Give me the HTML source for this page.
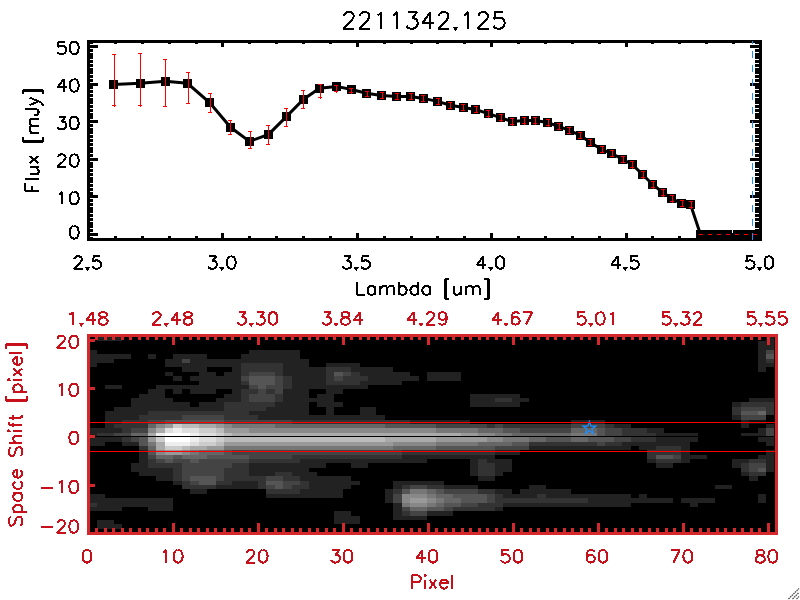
<!DOCTYPE html>
<html><head><meta charset="utf-8"><style>
html,body{margin:0;padding:0;background:#fff;width:800px;height:600px;overflow:hidden;font-family:"Liberation Sans",sans-serif;}
svg{display:block}
</style></head><body>
<svg width="800" height="600" viewBox="0 0 800 600">
<rect width="800" height="600" fill="#fff"/>
<rect x="87" y="41" width="3" height="198" fill="#000"/>
<rect x="88" y="40" width="672" height="3" fill="#000"/>
<rect x="759" y="41" width="3" height="198" fill="#000"/>
<rect x="88" y="238" width="672" height="3" fill="#000"/>
<rect x="87" y="237" width="6" height="3" fill="#000"/>
<rect x="755" y="237" width="7" height="3" fill="#000"/>
<rect x="87" y="233" width="11" height="3" fill="#000"/>
<rect x="750" y="233" width="12" height="3" fill="#000"/>
<rect x="87" y="229" width="6" height="3" fill="#000"/>
<rect x="755" y="229" width="7" height="3" fill="#000"/>
<rect x="87" y="225" width="6" height="3" fill="#000"/>
<rect x="755" y="225" width="7" height="3" fill="#000"/>
<rect x="87" y="222" width="6" height="3" fill="#000"/>
<rect x="755" y="222" width="7" height="3" fill="#000"/>
<rect x="87" y="218" width="6" height="3" fill="#000"/>
<rect x="755" y="218" width="7" height="3" fill="#000"/>
<rect x="87" y="214" width="6" height="3" fill="#000"/>
<rect x="755" y="214" width="7" height="3" fill="#000"/>
<rect x="87" y="210" width="6" height="3" fill="#000"/>
<rect x="755" y="210" width="7" height="3" fill="#000"/>
<rect x="87" y="207" width="6" height="3" fill="#000"/>
<rect x="755" y="207" width="7" height="3" fill="#000"/>
<rect x="87" y="203" width="6" height="3" fill="#000"/>
<rect x="755" y="203" width="7" height="3" fill="#000"/>
<rect x="87" y="199" width="6" height="3" fill="#000"/>
<rect x="755" y="199" width="7" height="3" fill="#000"/>
<rect x="87" y="195" width="11" height="3" fill="#000"/>
<rect x="750" y="195" width="12" height="3" fill="#000"/>
<rect x="87" y="192" width="6" height="3" fill="#000"/>
<rect x="755" y="192" width="7" height="3" fill="#000"/>
<rect x="87" y="188" width="6" height="3" fill="#000"/>
<rect x="755" y="188" width="7" height="3" fill="#000"/>
<rect x="87" y="184" width="6" height="3" fill="#000"/>
<rect x="755" y="184" width="7" height="3" fill="#000"/>
<rect x="87" y="180" width="6" height="3" fill="#000"/>
<rect x="755" y="180" width="7" height="3" fill="#000"/>
<rect x="87" y="177" width="6" height="3" fill="#000"/>
<rect x="755" y="177" width="7" height="3" fill="#000"/>
<rect x="87" y="173" width="6" height="3" fill="#000"/>
<rect x="755" y="173" width="7" height="3" fill="#000"/>
<rect x="87" y="169" width="6" height="3" fill="#000"/>
<rect x="755" y="169" width="7" height="3" fill="#000"/>
<rect x="87" y="165" width="6" height="3" fill="#000"/>
<rect x="755" y="165" width="7" height="3" fill="#000"/>
<rect x="87" y="162" width="6" height="3" fill="#000"/>
<rect x="755" y="162" width="7" height="3" fill="#000"/>
<rect x="87" y="158" width="11" height="3" fill="#000"/>
<rect x="750" y="158" width="12" height="3" fill="#000"/>
<rect x="87" y="154" width="6" height="3" fill="#000"/>
<rect x="755" y="154" width="7" height="3" fill="#000"/>
<rect x="87" y="150" width="6" height="3" fill="#000"/>
<rect x="755" y="150" width="7" height="3" fill="#000"/>
<rect x="87" y="147" width="6" height="3" fill="#000"/>
<rect x="755" y="147" width="7" height="3" fill="#000"/>
<rect x="87" y="143" width="6" height="3" fill="#000"/>
<rect x="755" y="143" width="7" height="3" fill="#000"/>
<rect x="87" y="139" width="6" height="3" fill="#000"/>
<rect x="755" y="139" width="7" height="3" fill="#000"/>
<rect x="87" y="135" width="6" height="3" fill="#000"/>
<rect x="755" y="135" width="7" height="3" fill="#000"/>
<rect x="87" y="131" width="6" height="3" fill="#000"/>
<rect x="755" y="131" width="7" height="3" fill="#000"/>
<rect x="87" y="128" width="6" height="3" fill="#000"/>
<rect x="755" y="128" width="7" height="3" fill="#000"/>
<rect x="87" y="124" width="6" height="3" fill="#000"/>
<rect x="755" y="124" width="7" height="3" fill="#000"/>
<rect x="87" y="120" width="11" height="3" fill="#000"/>
<rect x="750" y="120" width="12" height="3" fill="#000"/>
<rect x="87" y="116" width="6" height="3" fill="#000"/>
<rect x="755" y="116" width="7" height="3" fill="#000"/>
<rect x="87" y="113" width="6" height="3" fill="#000"/>
<rect x="755" y="113" width="7" height="3" fill="#000"/>
<rect x="87" y="109" width="6" height="3" fill="#000"/>
<rect x="755" y="109" width="7" height="3" fill="#000"/>
<rect x="87" y="105" width="6" height="3" fill="#000"/>
<rect x="755" y="105" width="7" height="3" fill="#000"/>
<rect x="87" y="101" width="6" height="3" fill="#000"/>
<rect x="755" y="101" width="7" height="3" fill="#000"/>
<rect x="87" y="98" width="6" height="3" fill="#000"/>
<rect x="755" y="98" width="7" height="3" fill="#000"/>
<rect x="87" y="94" width="6" height="3" fill="#000"/>
<rect x="755" y="94" width="7" height="3" fill="#000"/>
<rect x="87" y="90" width="6" height="3" fill="#000"/>
<rect x="755" y="90" width="7" height="3" fill="#000"/>
<rect x="87" y="86" width="6" height="3" fill="#000"/>
<rect x="755" y="86" width="7" height="3" fill="#000"/>
<rect x="87" y="83" width="11" height="3" fill="#000"/>
<rect x="750" y="83" width="12" height="3" fill="#000"/>
<rect x="87" y="79" width="6" height="3" fill="#000"/>
<rect x="755" y="79" width="7" height="3" fill="#000"/>
<rect x="87" y="75" width="6" height="3" fill="#000"/>
<rect x="755" y="75" width="7" height="3" fill="#000"/>
<rect x="87" y="71" width="6" height="3" fill="#000"/>
<rect x="755" y="71" width="7" height="3" fill="#000"/>
<rect x="87" y="68" width="6" height="3" fill="#000"/>
<rect x="755" y="68" width="7" height="3" fill="#000"/>
<rect x="87" y="64" width="6" height="3" fill="#000"/>
<rect x="755" y="64" width="7" height="3" fill="#000"/>
<rect x="87" y="60" width="6" height="3" fill="#000"/>
<rect x="755" y="60" width="7" height="3" fill="#000"/>
<rect x="87" y="56" width="6" height="3" fill="#000"/>
<rect x="755" y="56" width="7" height="3" fill="#000"/>
<rect x="87" y="53" width="6" height="3" fill="#000"/>
<rect x="755" y="53" width="7" height="3" fill="#000"/>
<rect x="87" y="49" width="6" height="3" fill="#000"/>
<rect x="755" y="49" width="7" height="3" fill="#000"/>
<rect x="87" y="45" width="11" height="3" fill="#000"/>
<rect x="750" y="45" width="12" height="3" fill="#000"/>
<rect x="87" y="41" width="6" height="3" fill="#000"/>
<rect x="755" y="41" width="7" height="3" fill="#000"/>
<rect x="87" y="233" width="3" height="8" fill="#000"/>
<rect x="87" y="40" width="3" height="7" fill="#000"/>
<rect x="114" y="236" width="3" height="5" fill="#000"/>
<rect x="114" y="40" width="3" height="4" fill="#000"/>
<rect x="141" y="236" width="3" height="5" fill="#000"/>
<rect x="141" y="40" width="3" height="4" fill="#000"/>
<rect x="168" y="236" width="3" height="5" fill="#000"/>
<rect x="168" y="40" width="3" height="4" fill="#000"/>
<rect x="195" y="236" width="3" height="5" fill="#000"/>
<rect x="195" y="40" width="3" height="4" fill="#000"/>
<rect x="221" y="233" width="3" height="8" fill="#000"/>
<rect x="221" y="40" width="3" height="7" fill="#000"/>
<rect x="248" y="236" width="3" height="5" fill="#000"/>
<rect x="248" y="40" width="3" height="4" fill="#000"/>
<rect x="275" y="236" width="3" height="5" fill="#000"/>
<rect x="275" y="40" width="3" height="4" fill="#000"/>
<rect x="302" y="236" width="3" height="5" fill="#000"/>
<rect x="302" y="40" width="3" height="4" fill="#000"/>
<rect x="329" y="236" width="3" height="5" fill="#000"/>
<rect x="329" y="40" width="3" height="4" fill="#000"/>
<rect x="356" y="233" width="3" height="8" fill="#000"/>
<rect x="356" y="40" width="3" height="7" fill="#000"/>
<rect x="383" y="236" width="3" height="5" fill="#000"/>
<rect x="383" y="40" width="3" height="4" fill="#000"/>
<rect x="410" y="236" width="3" height="5" fill="#000"/>
<rect x="410" y="40" width="3" height="4" fill="#000"/>
<rect x="436" y="236" width="3" height="5" fill="#000"/>
<rect x="436" y="40" width="3" height="4" fill="#000"/>
<rect x="463" y="236" width="3" height="5" fill="#000"/>
<rect x="463" y="40" width="3" height="4" fill="#000"/>
<rect x="490" y="233" width="3" height="8" fill="#000"/>
<rect x="490" y="40" width="3" height="7" fill="#000"/>
<rect x="517" y="236" width="3" height="5" fill="#000"/>
<rect x="517" y="40" width="3" height="4" fill="#000"/>
<rect x="544" y="236" width="3" height="5" fill="#000"/>
<rect x="544" y="40" width="3" height="4" fill="#000"/>
<rect x="571" y="236" width="3" height="5" fill="#000"/>
<rect x="571" y="40" width="3" height="4" fill="#000"/>
<rect x="598" y="236" width="3" height="5" fill="#000"/>
<rect x="598" y="40" width="3" height="4" fill="#000"/>
<rect x="625" y="233" width="3" height="8" fill="#000"/>
<rect x="625" y="40" width="3" height="7" fill="#000"/>
<rect x="651" y="236" width="3" height="5" fill="#000"/>
<rect x="651" y="40" width="3" height="4" fill="#000"/>
<rect x="678" y="236" width="3" height="5" fill="#000"/>
<rect x="678" y="40" width="3" height="4" fill="#000"/>
<rect x="705" y="236" width="3" height="5" fill="#000"/>
<rect x="705" y="40" width="3" height="4" fill="#000"/>
<rect x="732" y="236" width="3" height="5" fill="#000"/>
<rect x="732" y="40" width="3" height="4" fill="#000"/>
<rect x="759" y="233" width="3" height="8" fill="#000"/>
<rect x="759" y="40" width="3" height="7" fill="#000"/>
<polyline points="113.50,84.40 140.40,83.25 165.40,81.25 187.40,83.25 209.60,102.50 230.50,127.30 249.50,141.40 268.60,134.40 286.60,116.40 303.60,99.25 319.60,88.30 336.60,86.40 351.40,89.50 366.40,93.30 381.50,95.50 396.60,96.40 410.50,96.40 423.40,98.40 437.50,101.40 450.40,105.30 463.40,107.40 475.50,109.50 488.40,113.60 500.50,117.60 512.40,121.60 524.40,120.50 535.30,120.50 547.50,122.50 558.50,126.40 569.40,130.30 580.40,135.50 590.40,142.40 601.60,149.50 611.60,153.40 622.50,159.20 632.30,164.50 642.50,174.50 652.70,184.50 662.70,192.50 671.80,198.50 681.50,203.50 690.60,204.75 700.50,234.50 709.60,234.50 718.90,234.50 727.80,234.50 737.00,234.50 746.00,234.50 755.00,234.50" fill="none" stroke="#000" stroke-width="3" stroke-linejoin="miter"/>
<rect x="109" y="80" width="9" height="9" fill="#000"/>
<rect x="136" y="79" width="9" height="9" fill="#000"/>
<rect x="161" y="77" width="9" height="9" fill="#000"/>
<rect x="183" y="79" width="9" height="9" fill="#000"/>
<rect x="205" y="98" width="9" height="9" fill="#000"/>
<rect x="226" y="123" width="9" height="9" fill="#000"/>
<rect x="245" y="137" width="9" height="9" fill="#000"/>
<rect x="264" y="130" width="9" height="9" fill="#000"/>
<rect x="282" y="112" width="9" height="9" fill="#000"/>
<rect x="299" y="95" width="9" height="9" fill="#000"/>
<rect x="315" y="84" width="9" height="9" fill="#000"/>
<rect x="332" y="82" width="9" height="9" fill="#000"/>
<rect x="347" y="85" width="9" height="9" fill="#000"/>
<rect x="362" y="89" width="9" height="9" fill="#000"/>
<rect x="377" y="91" width="9" height="9" fill="#000"/>
<rect x="392" y="92" width="9" height="9" fill="#000"/>
<rect x="406" y="92" width="9" height="9" fill="#000"/>
<rect x="419" y="94" width="9" height="9" fill="#000"/>
<rect x="433" y="97" width="9" height="9" fill="#000"/>
<rect x="446" y="101" width="9" height="9" fill="#000"/>
<rect x="459" y="103" width="9" height="9" fill="#000"/>
<rect x="471" y="105" width="9" height="9" fill="#000"/>
<rect x="484" y="109" width="9" height="9" fill="#000"/>
<rect x="496" y="113" width="9" height="9" fill="#000"/>
<rect x="508" y="117" width="9" height="9" fill="#000"/>
<rect x="520" y="116" width="9" height="9" fill="#000"/>
<rect x="531" y="116" width="9" height="9" fill="#000"/>
<rect x="543" y="118" width="9" height="9" fill="#000"/>
<rect x="554" y="122" width="9" height="9" fill="#000"/>
<rect x="565" y="126" width="9" height="9" fill="#000"/>
<rect x="576" y="131" width="9" height="9" fill="#000"/>
<rect x="586" y="138" width="9" height="9" fill="#000"/>
<rect x="597" y="145" width="9" height="9" fill="#000"/>
<rect x="607" y="149" width="9" height="9" fill="#000"/>
<rect x="618" y="155" width="9" height="9" fill="#000"/>
<rect x="628" y="160" width="9" height="9" fill="#000"/>
<rect x="638" y="170" width="9" height="9" fill="#000"/>
<rect x="648" y="180" width="9" height="9" fill="#000"/>
<rect x="658" y="188" width="9" height="9" fill="#000"/>
<rect x="667" y="194" width="9" height="9" fill="#000"/>
<rect x="677" y="199" width="9" height="9" fill="#000"/>
<rect x="686" y="200" width="9" height="9" fill="#000"/>
<rect x="696" y="230" width="9" height="9" fill="#000"/>
<rect x="705" y="230" width="9" height="9" fill="#000"/>
<rect x="714" y="230" width="9" height="9" fill="#000"/>
<rect x="723" y="230" width="9" height="9" fill="#000"/>
<rect x="733" y="230" width="9" height="9" fill="#000"/>
<rect x="742" y="230" width="9" height="9" fill="#000"/>
<rect x="751" y="230" width="9" height="9" fill="#000"/>
<rect x="114" y="54" width="1" height="53" fill="#ff0000"/>
<rect x="112" y="54" width="4" height="1" fill="#ff0000"/>
<rect x="112" y="105" width="4" height="1" fill="#ff0000"/>
<rect x="140" y="54" width="1" height="53" fill="#ff0000"/>
<rect x="138" y="53" width="4" height="1" fill="#ff0000"/>
<rect x="138" y="105" width="4" height="1" fill="#ff0000"/>
<rect x="165" y="59" width="1" height="48" fill="#ff0000"/>
<rect x="163" y="59" width="4" height="1" fill="#ff0000"/>
<rect x="163" y="106" width="4" height="1" fill="#ff0000"/>
<rect x="188" y="72" width="1" height="32" fill="#ff0000"/>
<rect x="186" y="72" width="4" height="1" fill="#ff0000"/>
<rect x="186" y="103" width="4" height="1" fill="#ff0000"/>
<rect x="210" y="94" width="1" height="19" fill="#ff0000"/>
<rect x="208" y="93" width="4" height="1" fill="#ff0000"/>
<rect x="208" y="112" width="4" height="1" fill="#ff0000"/>
<rect x="230" y="120" width="1" height="15" fill="#ff0000"/>
<rect x="228" y="120" width="4" height="1" fill="#ff0000"/>
<rect x="228" y="134" width="4" height="1" fill="#ff0000"/>
<rect x="250" y="132" width="1" height="17" fill="#ff0000"/>
<rect x="248" y="131" width="4" height="1" fill="#ff0000"/>
<rect x="248" y="148" width="4" height="1" fill="#ff0000"/>
<rect x="268" y="125" width="1" height="20" fill="#ff0000"/>
<rect x="266" y="125" width="4" height="1" fill="#ff0000"/>
<rect x="266" y="144" width="4" height="1" fill="#ff0000"/>
<rect x="286" y="108" width="1" height="19" fill="#ff0000"/>
<rect x="284" y="108" width="4" height="1" fill="#ff0000"/>
<rect x="284" y="126" width="4" height="1" fill="#ff0000"/>
<rect x="303" y="90" width="1" height="19" fill="#ff0000"/>
<rect x="301" y="90" width="4" height="1" fill="#ff0000"/>
<rect x="301" y="108" width="4" height="1" fill="#ff0000"/>
<rect x="320" y="85" width="1" height="14" fill="#ff0000"/>
<rect x="318" y="84" width="4" height="1" fill="#ff0000"/>
<rect x="318" y="97" width="4" height="1" fill="#ff0000"/>
<rect x="336" y="85" width="1" height="8" fill="#ff0000"/>
<rect x="334" y="85" width="4" height="1" fill="#ff0000"/>
<rect x="334" y="91" width="4" height="1" fill="#ff0000"/>
<rect x="351" y="88" width="1" height="6" fill="#ff0000"/>
<rect x="349" y="88" width="4" height="1" fill="#ff0000"/>
<rect x="349" y="92" width="4" height="1" fill="#ff0000"/>
<rect x="367" y="91" width="1" height="6" fill="#ff0000"/>
<rect x="365" y="91" width="4" height="1" fill="#ff0000"/>
<rect x="365" y="96" width="4" height="1" fill="#ff0000"/>
<rect x="382" y="92" width="1" height="7" fill="#ff0000"/>
<rect x="380" y="92" width="4" height="1" fill="#ff0000"/>
<rect x="380" y="98" width="4" height="1" fill="#ff0000"/>
<rect x="397" y="93" width="1" height="7" fill="#ff0000"/>
<rect x="395" y="93" width="4" height="1" fill="#ff0000"/>
<rect x="395" y="99" width="4" height="1" fill="#ff0000"/>
<rect x="411" y="93" width="1" height="7" fill="#ff0000"/>
<rect x="409" y="93" width="4" height="1" fill="#ff0000"/>
<rect x="409" y="99" width="4" height="1" fill="#ff0000"/>
<rect x="423" y="95" width="1" height="7" fill="#ff0000"/>
<rect x="421" y="95" width="4" height="1" fill="#ff0000"/>
<rect x="421" y="101" width="4" height="1" fill="#ff0000"/>
<rect x="438" y="98" width="1" height="7" fill="#ff0000"/>
<rect x="436" y="98" width="4" height="1" fill="#ff0000"/>
<rect x="436" y="104" width="4" height="1" fill="#ff0000"/>
<rect x="450" y="102" width="1" height="7" fill="#ff0000"/>
<rect x="448" y="102" width="4" height="1" fill="#ff0000"/>
<rect x="448" y="108" width="4" height="1" fill="#ff0000"/>
<rect x="463" y="104" width="1" height="7" fill="#ff0000"/>
<rect x="461" y="104" width="4" height="1" fill="#ff0000"/>
<rect x="461" y="110" width="4" height="1" fill="#ff0000"/>
<rect x="476" y="106" width="1" height="7" fill="#ff0000"/>
<rect x="474" y="106" width="4" height="1" fill="#ff0000"/>
<rect x="474" y="112" width="4" height="1" fill="#ff0000"/>
<rect x="488" y="111" width="1" height="7" fill="#ff0000"/>
<rect x="486" y="110" width="4" height="1" fill="#ff0000"/>
<rect x="486" y="116" width="4" height="1" fill="#ff0000"/>
<rect x="501" y="115" width="1" height="7" fill="#ff0000"/>
<rect x="499" y="114" width="4" height="1" fill="#ff0000"/>
<rect x="499" y="120" width="4" height="1" fill="#ff0000"/>
<rect x="512" y="119" width="1" height="7" fill="#ff0000"/>
<rect x="510" y="118" width="4" height="1" fill="#ff0000"/>
<rect x="510" y="124" width="4" height="1" fill="#ff0000"/>
<rect x="524" y="118" width="1" height="7" fill="#ff0000"/>
<rect x="522" y="117" width="4" height="1" fill="#ff0000"/>
<rect x="522" y="123" width="4" height="1" fill="#ff0000"/>
<rect x="535" y="118" width="1" height="7" fill="#ff0000"/>
<rect x="533" y="117" width="4" height="1" fill="#ff0000"/>
<rect x="533" y="123" width="4" height="1" fill="#ff0000"/>
<rect x="548" y="120" width="1" height="7" fill="#ff0000"/>
<rect x="546" y="119" width="4" height="1" fill="#ff0000"/>
<rect x="546" y="125" width="4" height="1" fill="#ff0000"/>
<rect x="559" y="123" width="1" height="7" fill="#ff0000"/>
<rect x="557" y="123" width="4" height="1" fill="#ff0000"/>
<rect x="557" y="129" width="4" height="1" fill="#ff0000"/>
<rect x="569" y="127" width="1" height="7" fill="#ff0000"/>
<rect x="567" y="127" width="4" height="1" fill="#ff0000"/>
<rect x="567" y="133" width="4" height="1" fill="#ff0000"/>
<rect x="580" y="132" width="1" height="7" fill="#ff0000"/>
<rect x="578" y="132" width="4" height="1" fill="#ff0000"/>
<rect x="578" y="138" width="4" height="1" fill="#ff0000"/>
<rect x="590" y="139" width="1" height="7" fill="#ff0000"/>
<rect x="588" y="139" width="4" height="1" fill="#ff0000"/>
<rect x="588" y="145" width="4" height="1" fill="#ff0000"/>
<rect x="602" y="146" width="1" height="7" fill="#ff0000"/>
<rect x="600" y="146" width="4" height="1" fill="#ff0000"/>
<rect x="600" y="152" width="4" height="1" fill="#ff0000"/>
<rect x="612" y="150" width="1" height="7" fill="#ff0000"/>
<rect x="610" y="150" width="4" height="1" fill="#ff0000"/>
<rect x="610" y="156" width="4" height="1" fill="#ff0000"/>
<rect x="623" y="156" width="1" height="7" fill="#ff0000"/>
<rect x="621" y="156" width="4" height="1" fill="#ff0000"/>
<rect x="621" y="162" width="4" height="1" fill="#ff0000"/>
<rect x="632" y="162" width="1" height="7" fill="#ff0000"/>
<rect x="630" y="161" width="4" height="1" fill="#ff0000"/>
<rect x="630" y="167" width="4" height="1" fill="#ff0000"/>
<rect x="643" y="172" width="1" height="7" fill="#ff0000"/>
<rect x="641" y="171" width="4" height="1" fill="#ff0000"/>
<rect x="641" y="177" width="4" height="1" fill="#ff0000"/>
<rect x="653" y="182" width="1" height="7" fill="#ff0000"/>
<rect x="651" y="181" width="4" height="1" fill="#ff0000"/>
<rect x="651" y="187" width="4" height="1" fill="#ff0000"/>
<rect x="663" y="190" width="1" height="7" fill="#ff0000"/>
<rect x="661" y="189" width="4" height="1" fill="#ff0000"/>
<rect x="661" y="195" width="4" height="1" fill="#ff0000"/>
<rect x="672" y="196" width="1" height="7" fill="#ff0000"/>
<rect x="670" y="195" width="4" height="1" fill="#ff0000"/>
<rect x="670" y="201" width="4" height="1" fill="#ff0000"/>
<rect x="682" y="200" width="1" height="7" fill="#ff0000"/>
<rect x="680" y="200" width="4" height="1" fill="#ff0000"/>
<rect x="680" y="206" width="4" height="1" fill="#ff0000"/>
<rect x="691" y="202" width="1" height="7" fill="#ff0000"/>
<rect x="689" y="201" width="4" height="1" fill="#ff0000"/>
<rect x="689" y="207" width="4" height="1" fill="#ff0000"/>
<rect x="699" y="234" width="4" height="1" fill="#ff0000"/>
<rect x="699" y="234" width="4" height="1" fill="#ff0000"/>
<rect x="708" y="234" width="4" height="1" fill="#ff0000"/>
<rect x="708" y="234" width="4" height="1" fill="#ff0000"/>
<rect x="717" y="234" width="4" height="1" fill="#ff0000"/>
<rect x="717" y="234" width="4" height="1" fill="#ff0000"/>
<rect x="726" y="234" width="4" height="1" fill="#ff0000"/>
<rect x="726" y="234" width="4" height="1" fill="#ff0000"/>
<rect x="735" y="234" width="4" height="1" fill="#ff0000"/>
<rect x="735" y="234" width="4" height="1" fill="#ff0000"/>
<rect x="744" y="234" width="4" height="1" fill="#ff0000"/>
<rect x="744" y="234" width="4" height="1" fill="#ff0000"/>
<rect x="753" y="234" width="4" height="1" fill="#ff0000"/>
<rect x="753" y="234" width="4" height="1" fill="#ff0000"/>
<rect x="752" y="41" width="1" height="3" fill="#1e90ff"/>
<rect x="752" y="51" width="1" height="7" fill="#1e90ff"/>
<rect x="752" y="65" width="1" height="7" fill="#1e90ff"/>
<rect x="752" y="79" width="1" height="7" fill="#1e90ff"/>
<rect x="752" y="93" width="1" height="7" fill="#1e90ff"/>
<rect x="752" y="107" width="1" height="7" fill="#1e90ff"/>
<rect x="752" y="121" width="1" height="7" fill="#1e90ff"/>
<rect x="752" y="135" width="1" height="7" fill="#1e90ff"/>
<rect x="752" y="149" width="1" height="7" fill="#1e90ff"/>
<rect x="752" y="163" width="1" height="7" fill="#1e90ff"/>
<rect x="752" y="177" width="1" height="7" fill="#1e90ff"/>
<rect x="752" y="191" width="1" height="7" fill="#1e90ff"/>
<rect x="752" y="205" width="1" height="7" fill="#1e90ff"/>
<rect x="752" y="219" width="1" height="7" fill="#1e90ff"/>
<rect x="752" y="233" width="1" height="7" fill="#1e90ff"/>
<path d="M73.62 226.11L71.75 226.70L70.50 228.47L69.88 231.42L69.88 233.19L70.50 236.14L71.75 237.91L73.62 238.50L74.88 238.50L76.75 237.91L78.00 236.14L78.62 233.19L78.62 231.42L78.00 228.47L76.75 226.70L74.88 226.11L73.62 226.11" fill="none" stroke="#000" stroke-width="2.00" stroke-linecap="butt" stroke-linejoin="miter" stroke-miterlimit="1.6" shape-rendering="crispEdges"/>
<path d="M59.25 194.37L60.50 193.78L62.38 192.01L62.38 204.40M73.62 192.01L71.75 192.60L70.50 194.37L69.88 197.32L69.88 199.09L70.50 202.04L71.75 203.81L73.62 204.40L74.88 204.40L76.75 203.81L78.00 202.04L78.62 199.09L78.62 197.32L78.00 194.37L76.75 192.60L74.88 192.01L73.62 192.01" fill="none" stroke="#000" stroke-width="2.00" stroke-linecap="butt" stroke-linejoin="miter" stroke-miterlimit="1.6" shape-rendering="crispEdges"/>
<path d="M58.00 157.36L58.00 156.77L58.62 155.59L59.25 155.00L60.50 154.41L63.00 154.41L64.25 155.00L64.88 155.59L65.50 156.77L65.50 157.95L64.88 159.13L63.62 160.90L57.38 166.80L66.12 166.80M73.62 154.41L71.75 155.00L70.50 156.77L69.88 159.72L69.88 161.49L70.50 164.44L71.75 166.21L73.62 166.80L74.88 166.80L76.75 166.21L78.00 164.44L78.62 161.49L78.62 159.72L78.00 156.77L76.75 155.00L74.88 154.41L73.62 154.41" fill="none" stroke="#000" stroke-width="2.00" stroke-linecap="butt" stroke-linejoin="miter" stroke-miterlimit="1.6" shape-rendering="crispEdges"/>
<path d="M58.62 116.81L65.50 116.81L61.75 121.53L63.62 121.53L64.88 122.12L65.50 122.71L66.12 124.48L66.12 125.66L65.50 127.43L64.25 128.61L62.38 129.20L60.50 129.20L58.62 128.61L58.00 128.02L57.38 126.84M73.62 116.81L71.75 117.40L70.50 119.17L69.88 122.12L69.88 123.89L70.50 126.84L71.75 128.61L73.62 129.20L74.88 129.20L76.75 128.61L78.00 126.84L78.62 123.89L78.62 122.12L78.00 119.17L76.75 117.40L74.88 116.81L73.62 116.81" fill="none" stroke="#000" stroke-width="2.00" stroke-linecap="butt" stroke-linejoin="miter" stroke-miterlimit="1.6" shape-rendering="crispEdges"/>
<path d="M63.62 79.21L57.38 87.47L66.75 87.47M63.62 79.21L63.62 91.60M73.62 79.21L71.75 79.80L70.50 81.57L69.88 84.52L69.88 86.29L70.50 89.24L71.75 91.01L73.62 91.60L74.88 91.60L76.75 91.01L78.00 89.24L78.62 86.29L78.62 84.52L78.00 81.57L76.75 79.80L74.88 79.21L73.62 79.21" fill="none" stroke="#000" stroke-width="2.00" stroke-linecap="butt" stroke-linejoin="miter" stroke-miterlimit="1.6" shape-rendering="crispEdges"/>
<path d="M64.88 41.61L58.62 41.61L58.00 46.92L58.62 46.33L60.50 45.74L62.38 45.74L64.25 46.33L65.50 47.51L66.12 49.28L66.12 50.46L65.50 52.23L64.25 53.41L62.38 54.00L60.50 54.00L58.62 53.41L58.00 52.82L57.38 51.64M73.62 41.61L71.75 42.20L70.50 43.97L69.88 46.92L69.88 48.69L70.50 51.64L71.75 53.41L73.62 54.00L74.88 54.00L76.75 53.41L78.00 51.64L78.62 48.69L78.62 46.92L78.00 43.97L76.75 42.20L74.88 41.61L73.62 41.61" fill="none" stroke="#000" stroke-width="2.00" stroke-linecap="butt" stroke-linejoin="miter" stroke-miterlimit="1.6" shape-rendering="crispEdges"/>
<path d="M74.38 259.31L74.38 258.72L75.00 257.54L75.62 256.95L76.88 256.36L79.38 256.36L80.62 256.95L81.25 257.54L81.88 258.72L81.88 259.90L81.25 261.08L80.00 262.85L73.75 268.75L82.50 268.75M100.00 256.36L93.75 256.36L93.12 261.67L93.75 261.08L95.62 260.49L97.50 260.49L99.38 261.08L100.62 262.26L101.25 264.03L101.25 265.21L100.62 266.98L99.38 268.16L97.50 268.75L95.62 268.75L93.75 268.16L93.12 267.57L92.50 266.39" fill="none" stroke="#000" stroke-width="2.00" stroke-linecap="butt" stroke-linejoin="miter" stroke-miterlimit="1.6" shape-rendering="crispEdges"/><path d="M84.50 266.75L90.50 266.75L87.50 271.25Z" fill="#000" shape-rendering="crispEdges"/>
<path d="M209.40 256.36L216.28 256.36L212.53 261.08L214.40 261.08L215.65 261.67L216.28 262.26L216.90 264.03L216.90 265.21L216.28 266.98L215.03 268.16L213.15 268.75L211.28 268.75L209.40 268.16L208.78 267.57L208.15 266.39M230.65 256.36L228.78 256.95L227.53 258.72L226.90 261.67L226.90 263.44L227.53 266.39L228.78 268.16L230.65 268.75L231.90 268.75L233.78 268.16L235.03 266.39L235.65 263.44L235.65 261.67L235.03 258.72L233.78 256.95L231.90 256.36L230.65 256.36" fill="none" stroke="#000" stroke-width="2.00" stroke-linecap="butt" stroke-linejoin="miter" stroke-miterlimit="1.6" shape-rendering="crispEdges"/><path d="M218.90 266.75L224.90 266.75L221.90 271.25Z" fill="#000" shape-rendering="crispEdges"/>
<path d="M343.80 256.36L350.68 256.36L346.93 261.08L348.80 261.08L350.05 261.67L350.68 262.26L351.30 264.03L351.30 265.21L350.68 266.98L349.43 268.16L347.55 268.75L345.68 268.75L343.80 268.16L343.18 267.57L342.55 266.39M368.80 256.36L362.55 256.36L361.93 261.67L362.55 261.08L364.43 260.49L366.30 260.49L368.18 261.08L369.43 262.26L370.05 264.03L370.05 265.21L369.43 266.98L368.18 268.16L366.30 268.75L364.43 268.75L362.55 268.16L361.93 267.57L361.30 266.39" fill="none" stroke="#000" stroke-width="2.00" stroke-linecap="butt" stroke-linejoin="miter" stroke-miterlimit="1.6" shape-rendering="crispEdges"/><path d="M353.30 266.75L359.30 266.75L356.30 271.25Z" fill="#000" shape-rendering="crispEdges"/>
<path d="M483.20 256.36L476.95 264.62L486.33 264.62M483.20 256.36L483.20 268.75M499.45 256.36L497.58 256.95L496.33 258.72L495.70 261.67L495.70 263.44L496.33 266.39L497.58 268.16L499.45 268.75L500.70 268.75L502.58 268.16L503.83 266.39L504.45 263.44L504.45 261.67L503.83 258.72L502.58 256.95L500.70 256.36L499.45 256.36" fill="none" stroke="#000" stroke-width="2.00" stroke-linecap="butt" stroke-linejoin="miter" stroke-miterlimit="1.6" shape-rendering="crispEdges"/><path d="M487.70 266.75L493.70 266.75L490.70 271.25Z" fill="#000" shape-rendering="crispEdges"/>
<path d="M617.60 256.36L611.35 264.62L620.73 264.62M617.60 256.36L617.60 268.75M637.60 256.36L631.35 256.36L630.73 261.67L631.35 261.08L633.23 260.49L635.10 260.49L636.98 261.08L638.23 262.26L638.85 264.03L638.85 265.21L638.23 266.98L636.98 268.16L635.10 268.75L633.23 268.75L631.35 268.16L630.73 267.57L630.10 266.39" fill="none" stroke="#000" stroke-width="2.00" stroke-linecap="butt" stroke-linejoin="miter" stroke-miterlimit="1.6" shape-rendering="crispEdges"/><path d="M622.10 266.75L628.10 266.75L625.10 271.25Z" fill="#000" shape-rendering="crispEdges"/>
<path d="M753.25 256.36L747.00 256.36L746.38 261.67L747.00 261.08L748.88 260.49L750.75 260.49L752.62 261.08L753.88 262.26L754.50 264.03L754.50 265.21L753.88 266.98L752.62 268.16L750.75 268.75L748.88 268.75L747.00 268.16L746.38 267.57L745.75 266.39M768.25 256.36L766.38 256.95L765.12 258.72L764.50 261.67L764.50 263.44L765.12 266.39L766.38 268.16L768.25 268.75L769.50 268.75L771.38 268.16L772.62 266.39L773.25 263.44L773.25 261.67L772.62 258.72L771.38 256.95L769.50 256.36L768.25 256.36" fill="none" stroke="#000" stroke-width="2.00" stroke-linecap="butt" stroke-linejoin="miter" stroke-miterlimit="1.6" shape-rendering="crispEdges"/><path d="M756.50 266.75L762.50 266.75L759.50 271.25Z" fill="#000" shape-rendering="crispEdges"/>
<path d="M357.48 281.52L357.48 294.75M357.48 294.75L365.04 294.75M375.12 285.93L375.12 294.75M375.12 287.82L373.86 286.56L372.60 285.93L370.71 285.93L369.45 286.56L368.19 287.82L367.56 289.71L367.56 290.97L368.19 292.86L369.45 294.12L370.71 294.75L372.60 294.75L373.86 294.12L375.12 292.86M380.16 285.93L380.16 294.75M380.16 288.45L382.05 286.56L383.31 285.93L385.20 285.93L386.46 286.56L387.09 288.45L387.09 294.75M387.09 288.45L388.98 286.56L390.24 285.93L392.13 285.93L393.39 286.56L394.02 288.45L394.02 294.75M399.06 281.52L399.06 294.75M399.06 287.82L400.32 286.56L401.58 285.93L403.47 285.93L404.73 286.56L405.99 287.82L406.62 289.71L406.62 290.97L405.99 292.86L404.73 294.12L403.47 294.75L401.58 294.75L400.32 294.12L399.06 292.86M417.96 281.52L417.96 294.75M417.96 287.82L416.70 286.56L415.44 285.93L413.55 285.93L412.29 286.56L411.03 287.82L410.40 289.71L410.40 290.97L411.03 292.86L412.29 294.12L413.55 294.75L415.44 294.75L416.70 294.12L417.96 292.86M429.93 285.93L429.93 294.75M429.93 287.82L428.67 286.56L427.41 285.93L425.52 285.93L424.26 286.56L423.00 287.82L422.37 289.71L422.37 290.97L423.00 292.86L424.26 294.12L425.52 294.75L427.41 294.75L428.67 294.12L429.93 292.86M445.05 279.00L445.05 299.16M445.68 279.00L445.68 299.16M445.05 279.00L449.46 279.00M445.05 299.16L449.46 299.16M453.87 285.93L453.87 292.23L454.50 294.12L455.76 294.75L457.65 294.75L458.91 294.12L460.80 292.23M460.80 285.93L460.80 294.75M465.84 285.93L465.84 294.75M465.84 288.45L467.73 286.56L468.99 285.93L470.88 285.93L472.14 286.56L472.77 288.45L472.77 294.75M472.77 288.45L474.66 286.56L475.92 285.93L477.81 285.93L479.07 286.56L479.70 288.45L479.70 294.75M487.89 279.00L487.89 299.16M488.52 279.00L488.52 299.16M484.11 279.00L488.52 279.00M484.11 299.16L488.52 299.16" fill="none" stroke="#000" stroke-width="2.00" stroke-linecap="butt" stroke-linejoin="miter" stroke-miterlimit="1.6" shape-rendering="crispEdges"/>
<path d="M25.27 190.80L38.50 190.80M25.27 190.80L25.27 182.61M31.57 190.80L31.57 185.76M25.27 179.46L38.50 179.46M29.68 174.42L35.98 174.42L37.87 173.79L38.50 172.53L38.50 170.64L37.87 169.38L35.98 167.49M29.68 167.49L38.50 167.49M29.68 163.08L38.50 156.15M29.68 156.15L38.50 163.08M22.75 141.66L42.91 141.66M22.75 141.03L42.91 141.03M22.75 141.66L22.75 137.25M42.91 141.66L42.91 137.25M29.68 132.84L38.50 132.84M32.20 132.84L30.31 130.95L29.68 129.69L29.68 127.80L30.31 126.54L32.20 125.91L38.50 125.91M32.20 125.91L30.31 124.02L29.68 122.76L29.68 120.87L30.31 119.61L32.20 118.98L38.50 118.98M25.27 108.90L35.35 108.90L37.24 109.53L37.87 110.16L38.50 111.42L38.50 112.68L37.87 113.94L37.24 114.57L35.35 115.20L34.09 115.20M29.68 105.12L38.50 101.34M29.68 97.56L38.50 101.34L41.02 102.60L42.28 103.86L42.91 105.12L42.91 105.75M22.75 90.63L42.91 90.63M22.75 90.00L42.91 90.00M22.75 94.41L22.75 90.00M42.91 94.41L42.91 90.00" fill="none" stroke="#000" stroke-width="2.00" stroke-linecap="butt" stroke-linejoin="miter" stroke-miterlimit="1.6" shape-rendering="crispEdges"/>
<path d="M344.21 16.06L344.21 15.27L345.00 13.69L345.79 12.90L347.37 12.11L350.53 12.11L352.11 12.90L352.90 13.69L353.69 15.27L353.69 16.85L352.90 18.43L351.32 20.80L343.42 28.70L354.48 28.70M360.01 16.06L360.01 15.27L360.80 13.69L361.59 12.90L363.17 12.11L366.33 12.11L367.91 12.90L368.70 13.69L369.49 15.27L369.49 16.85L368.70 18.43L367.12 20.80L359.22 28.70L370.28 28.70M377.39 15.27L378.97 14.48L381.34 12.11L381.34 28.70M393.19 15.27L394.77 14.48L397.14 12.11L397.14 28.70M408.20 12.11L416.89 12.11L412.15 18.43L414.52 18.43L416.10 19.22L416.89 20.01L417.68 22.38L417.68 23.96L416.89 26.33L415.31 27.91L412.94 28.70L410.57 28.70L408.20 27.91L407.41 27.12L406.62 25.54M430.32 12.11L422.42 23.17L434.27 23.17M430.32 12.11L430.32 28.70M439.01 16.06L439.01 15.27L439.80 13.69L440.59 12.90L442.17 12.11L445.33 12.11L446.91 12.90L447.70 13.69L448.49 15.27L448.49 16.85L447.70 18.43L446.12 20.80L438.22 28.70L449.28 28.70M464.29 15.27L465.87 14.48L468.24 12.11L468.24 28.70M478.51 16.06L478.51 15.27L479.30 13.69L480.09 12.90L481.67 12.11L484.83 12.11L486.41 12.90L487.20 13.69L487.99 15.27L487.99 16.85L487.20 18.43L485.62 20.80L477.72 28.70L488.78 28.70M503.00 12.11L495.10 12.11L494.31 19.22L495.10 18.43L497.47 17.64L499.84 17.64L502.21 18.43L503.79 20.01L504.58 22.38L504.58 23.96L503.79 26.33L502.21 27.91L499.84 28.70L497.47 28.70L495.10 27.91L494.31 27.12L493.52 25.54" fill="none" stroke="#000" stroke-width="2.00" stroke-linecap="butt" stroke-linejoin="miter" stroke-miterlimit="1.6" shape-rendering="crispEdges"/><path d="M452.60 26.70L458.60 26.70L455.60 31.20Z" fill="#000" shape-rendering="crispEdges"/>
<rect x="88" y="335" width="689" height="199" fill="#000"/>
<g id="img" shape-rendering="crispEdges"><rect x="97" y="337" width="25" height="4" fill="#222222"/><rect x="766" y="337" width="8" height="4" fill="#222222"/><rect x="758" y="341" width="16" height="5" fill="#222222"/><rect x="758" y="346" width="16" height="4" fill="#222222"/><rect x="88" y="350" width="9" height="4" fill="#222222"/><rect x="249" y="350" width="51" height="4" fill="#222222"/><rect x="758" y="350" width="8" height="4" fill="#222222"/><rect x="766" y="350" width="8" height="4" fill="#444444"/><rect x="88" y="354" width="43" height="5" fill="#222222"/><rect x="148" y="354" width="8" height="5" fill="#222222"/><rect x="173" y="354" width="34" height="5" fill="#222222"/><rect x="241" y="354" width="59" height="5" fill="#222222"/><rect x="758" y="354" width="8" height="5" fill="#222222"/><rect x="766" y="354" width="8" height="5" fill="#555555"/><rect x="88" y="359" width="26" height="4" fill="#222222"/><rect x="165" y="359" width="17" height="4" fill="#222222"/><rect x="182" y="359" width="8" height="4" fill="#444444"/><rect x="190" y="359" width="119" height="4" fill="#222222"/><rect x="758" y="359" width="8" height="4" fill="#222222"/><rect x="766" y="359" width="8" height="4" fill="#333333"/><rect x="88" y="363" width="9" height="4" fill="#222222"/><rect x="165" y="363" width="76" height="4" fill="#222222"/><rect x="241" y="363" width="42" height="4" fill="#333333"/><rect x="283" y="363" width="26" height="4" fill="#222222"/><rect x="326" y="363" width="34" height="4" fill="#222222"/><rect x="758" y="363" width="16" height="4" fill="#222222"/><rect x="182" y="367" width="25" height="5" fill="#222222"/><rect x="232" y="367" width="9" height="5" fill="#222222"/><rect x="241" y="367" width="42" height="5" fill="#333333"/><rect x="283" y="367" width="43" height="5" fill="#222222"/><rect x="326" y="367" width="25" height="5" fill="#333333"/><rect x="351" y="367" width="42" height="5" fill="#222222"/><rect x="758" y="367" width="8" height="5" fill="#222222"/><rect x="165" y="372" width="8" height="4" fill="#222222"/><rect x="199" y="372" width="17" height="4" fill="#222222"/><rect x="224" y="372" width="17" height="4" fill="#222222"/><rect x="241" y="372" width="8" height="4" fill="#333333"/><rect x="249" y="372" width="26" height="4" fill="#444444"/><rect x="275" y="372" width="8" height="4" fill="#333333"/><rect x="283" y="372" width="43" height="4" fill="#222222"/><rect x="326" y="372" width="8" height="4" fill="#333333"/><rect x="334" y="372" width="9" height="4" fill="#555555"/><rect x="343" y="372" width="8" height="4" fill="#444444"/><rect x="351" y="372" width="9" height="4" fill="#333333"/><rect x="360" y="372" width="50" height="4" fill="#222222"/><rect x="427" y="372" width="34" height="4" fill="#222222"/><rect x="173" y="376" width="9" height="5" fill="#222222"/><rect x="190" y="376" width="51" height="5" fill="#222222"/><rect x="241" y="376" width="8" height="5" fill="#444444"/><rect x="249" y="376" width="26" height="5" fill="#555555"/><rect x="275" y="376" width="8" height="5" fill="#444444"/><rect x="283" y="376" width="9" height="5" fill="#333333"/><rect x="292" y="376" width="34" height="5" fill="#222222"/><rect x="326" y="376" width="8" height="5" fill="#333333"/><rect x="334" y="376" width="9" height="5" fill="#444444"/><rect x="343" y="376" width="25" height="5" fill="#333333"/><rect x="368" y="376" width="51" height="5" fill="#222222"/><rect x="427" y="376" width="34" height="5" fill="#222222"/><rect x="199" y="381" width="42" height="4" fill="#222222"/><rect x="241" y="381" width="8" height="4" fill="#333333"/><rect x="249" y="381" width="26" height="4" fill="#555555"/><rect x="275" y="381" width="8" height="4" fill="#444444"/><rect x="283" y="381" width="9" height="4" fill="#333333"/><rect x="292" y="381" width="34" height="4" fill="#222222"/><rect x="326" y="381" width="34" height="4" fill="#333333"/><rect x="360" y="381" width="42" height="4" fill="#222222"/><rect x="105" y="385" width="17" height="4" fill="#222222"/><rect x="156" y="385" width="93" height="4" fill="#222222"/><rect x="249" y="385" width="9" height="4" fill="#444444"/><rect x="258" y="385" width="8" height="4" fill="#555555"/><rect x="266" y="385" width="17" height="4" fill="#444444"/><rect x="283" y="385" width="9" height="4" fill="#333333"/><rect x="292" y="385" width="76" height="4" fill="#222222"/><rect x="148" y="389" width="17" height="5" fill="#222222"/><rect x="173" y="389" width="9" height="5" fill="#222222"/><rect x="190" y="389" width="26" height="5" fill="#222222"/><rect x="232" y="389" width="9" height="5" fill="#222222"/><rect x="241" y="389" width="17" height="5" fill="#333333"/><rect x="258" y="389" width="8" height="5" fill="#444444"/><rect x="266" y="389" width="9" height="5" fill="#333333"/><rect x="275" y="389" width="8" height="5" fill="#444444"/><rect x="283" y="389" width="26" height="5" fill="#222222"/><rect x="326" y="389" width="17" height="5" fill="#222222"/><rect x="139" y="394" width="26" height="4" fill="#222222"/><rect x="224" y="394" width="17" height="4" fill="#222222"/><rect x="241" y="394" width="8" height="4" fill="#333333"/><rect x="249" y="394" width="26" height="4" fill="#444444"/><rect x="275" y="394" width="8" height="4" fill="#333333"/><rect x="283" y="394" width="26" height="4" fill="#222222"/><rect x="317" y="394" width="17" height="4" fill="#222222"/><rect x="470" y="394" width="50" height="4" fill="#222222"/><rect x="131" y="398" width="42" height="4" fill="#222222"/><rect x="216" y="398" width="25" height="4" fill="#222222"/><rect x="241" y="398" width="8" height="4" fill="#333333"/><rect x="249" y="398" width="26" height="4" fill="#444444"/><rect x="275" y="398" width="8" height="4" fill="#333333"/><rect x="283" y="398" width="51" height="4" fill="#222222"/><rect x="470" y="398" width="25" height="4" fill="#222222"/><rect x="495" y="398" width="17" height="4" fill="#333333"/><rect x="512" y="398" width="17" height="4" fill="#222222"/><rect x="749" y="398" width="25" height="4" fill="#222222"/><rect x="131" y="402" width="59" height="5" fill="#222222"/><rect x="199" y="402" width="25" height="5" fill="#222222"/><rect x="224" y="402" width="51" height="5" fill="#333333"/><rect x="275" y="402" width="34" height="5" fill="#222222"/><rect x="317" y="402" width="26" height="5" fill="#222222"/><rect x="470" y="402" width="50" height="5" fill="#222222"/><rect x="732" y="402" width="9" height="5" fill="#222222"/><rect x="741" y="402" width="33" height="5" fill="#333333"/><rect x="114" y="407" width="110" height="4" fill="#222222"/><rect x="224" y="407" width="42" height="4" fill="#333333"/><rect x="266" y="407" width="43" height="4" fill="#222222"/><rect x="326" y="407" width="8" height="4" fill="#222222"/><rect x="360" y="407" width="16" height="4" fill="#222222"/><rect x="732" y="407" width="9" height="4" fill="#333333"/><rect x="741" y="407" width="25" height="4" fill="#444444"/><rect x="766" y="407" width="8" height="4" fill="#333333"/><rect x="105" y="411" width="43" height="4" fill="#222222"/><rect x="148" y="411" width="101" height="4" fill="#333333"/><rect x="249" y="411" width="60" height="4" fill="#222222"/><rect x="326" y="411" width="8" height="4" fill="#222222"/><rect x="360" y="411" width="16" height="4" fill="#222222"/><rect x="732" y="411" width="9" height="4" fill="#333333"/><rect x="741" y="411" width="17" height="4" fill="#555555"/><rect x="758" y="411" width="8" height="4" fill="#666666"/><rect x="766" y="411" width="8" height="4" fill="#333333"/><rect x="105" y="415" width="34" height="5" fill="#222222"/><rect x="139" y="415" width="43" height="5" fill="#333333"/><rect x="182" y="415" width="42" height="5" fill="#444444"/><rect x="224" y="415" width="34" height="5" fill="#333333"/><rect x="258" y="415" width="127" height="5" fill="#222222"/><rect x="732" y="415" width="9" height="5" fill="#222222"/><rect x="741" y="415" width="25" height="5" fill="#444444"/><rect x="105" y="420" width="17" height="4" fill="#222222"/><rect x="122" y="420" width="26" height="4" fill="#333333"/><rect x="148" y="420" width="17" height="4" fill="#444444"/><rect x="165" y="420" width="59" height="4" fill="#555555"/><rect x="224" y="420" width="68" height="4" fill="#444444"/><rect x="292" y="420" width="118" height="4" fill="#333333"/><rect x="410" y="420" width="60" height="4" fill="#222222"/><rect x="571" y="420" width="34" height="4" fill="#222222"/><rect x="741" y="420" width="8" height="4" fill="#222222"/><rect x="749" y="420" width="17" height="4" fill="#111111"/><rect x="105" y="424" width="9" height="4" fill="#222222"/><rect x="114" y="424" width="34" height="4" fill="#333333"/><rect x="148" y="424" width="8" height="4" fill="#666666"/><rect x="156" y="424" width="9" height="4" fill="#888888"/><rect x="165" y="424" width="8" height="4" fill="#999999"/><rect x="173" y="424" width="9" height="4" fill="#cccccc"/><rect x="182" y="424" width="17" height="4" fill="#bbbbbb"/><rect x="199" y="424" width="17" height="4" fill="#aaaaaa"/><rect x="216" y="424" width="8" height="4" fill="#999999"/><rect x="224" y="424" width="8" height="4" fill="#888888"/><rect x="232" y="424" width="43" height="4" fill="#777777"/><rect x="275" y="424" width="110" height="4" fill="#666666"/><rect x="385" y="424" width="51" height="4" fill="#555555"/><rect x="436" y="424" width="51" height="4" fill="#444444"/><rect x="487" y="424" width="8" height="4" fill="#333333"/><rect x="495" y="424" width="8" height="4" fill="#444444"/><rect x="503" y="424" width="68" height="4" fill="#333333"/><rect x="571" y="424" width="34" height="4" fill="#444444"/><rect x="605" y="424" width="9" height="4" fill="#333333"/><rect x="614" y="424" width="17" height="4" fill="#222222"/><rect x="741" y="424" width="8" height="4" fill="#222222"/><rect x="766" y="424" width="8" height="4" fill="#222222"/><rect x="88" y="428" width="34" height="5" fill="#222222"/><rect x="122" y="428" width="9" height="5" fill="#333333"/><rect x="131" y="428" width="17" height="5" fill="#444444"/><rect x="148" y="428" width="8" height="5" fill="#888888"/><rect x="156" y="428" width="9" height="5" fill="#aaaaaa"/><rect x="165" y="428" width="8" height="5" fill="#dddddd"/><rect x="173" y="428" width="9" height="5" fill="#eeeeee"/><rect x="182" y="428" width="17" height="5" fill="#dddddd"/><rect x="199" y="428" width="17" height="5" fill="#cccccc"/><rect x="216" y="428" width="8" height="5" fill="#bbbbbb"/><rect x="224" y="428" width="25" height="5" fill="#999999"/><rect x="249" y="428" width="187" height="5" fill="#888888"/><rect x="436" y="428" width="42" height="5" fill="#777777"/><rect x="478" y="428" width="25" height="5" fill="#666666"/><rect x="503" y="428" width="17" height="5" fill="#555555"/><rect x="520" y="428" width="51" height="5" fill="#444444"/><rect x="571" y="428" width="26" height="5" fill="#666666"/><rect x="597" y="428" width="8" height="5" fill="#555555"/><rect x="605" y="428" width="17" height="5" fill="#444444"/><rect x="622" y="428" width="25" height="5" fill="#333333"/><rect x="647" y="428" width="17" height="5" fill="#222222"/><rect x="758" y="428" width="8" height="5" fill="#222222"/><rect x="766" y="428" width="8" height="5" fill="#444444"/><rect x="88" y="433" width="9" height="4" fill="#222222"/><rect x="97" y="433" width="17" height="4" fill="#333333"/><rect x="114" y="433" width="17" height="4" fill="#444444"/><rect x="131" y="433" width="17" height="4" fill="#666666"/><rect x="148" y="433" width="8" height="4" fill="#aaaaaa"/><rect x="156" y="433" width="9" height="4" fill="#eeeeee"/><rect x="165" y="433" width="25" height="4" fill="#ffffff"/><rect x="190" y="433" width="9" height="4" fill="#eeeeee"/><rect x="199" y="433" width="17" height="4" fill="#dddddd"/><rect x="216" y="433" width="8" height="4" fill="#cccccc"/><rect x="224" y="433" width="8" height="4" fill="#bbbbbb"/><rect x="232" y="433" width="229" height="4" fill="#aaaaaa"/><rect x="461" y="433" width="17" height="4" fill="#999999"/><rect x="478" y="433" width="17" height="4" fill="#888888"/><rect x="495" y="433" width="17" height="4" fill="#777777"/><rect x="512" y="433" width="59" height="4" fill="#666666"/><rect x="571" y="433" width="26" height="4" fill="#777777"/><rect x="597" y="433" width="8" height="4" fill="#555555"/><rect x="605" y="433" width="17" height="4" fill="#444444"/><rect x="622" y="433" width="34" height="4" fill="#333333"/><rect x="656" y="433" width="42" height="4" fill="#222222"/><rect x="741" y="433" width="25" height="4" fill="#222222"/><rect x="766" y="433" width="8" height="4" fill="#444444"/><rect x="88" y="437" width="34" height="5" fill="#222222"/><rect x="122" y="437" width="9" height="5" fill="#333333"/><rect x="131" y="437" width="8" height="5" fill="#444444"/><rect x="139" y="437" width="9" height="5" fill="#555555"/><rect x="148" y="437" width="8" height="5" fill="#999999"/><rect x="156" y="437" width="9" height="5" fill="#cccccc"/><rect x="165" y="437" width="25" height="5" fill="#ffffff"/><rect x="190" y="437" width="9" height="5" fill="#eeeeee"/><rect x="199" y="437" width="17" height="5" fill="#dddddd"/><rect x="216" y="437" width="8" height="5" fill="#cccccc"/><rect x="224" y="437" width="161" height="5" fill="#bbbbbb"/><rect x="385" y="437" width="51" height="5" fill="#aaaaaa"/><rect x="436" y="437" width="51" height="5" fill="#999999"/><rect x="487" y="437" width="16" height="5" fill="#888888"/><rect x="503" y="437" width="26" height="5" fill="#777777"/><rect x="529" y="437" width="17" height="5" fill="#666666"/><rect x="546" y="437" width="25" height="5" fill="#555555"/><rect x="571" y="437" width="17" height="5" fill="#666666"/><rect x="588" y="437" width="26" height="5" fill="#555555"/><rect x="614" y="437" width="17" height="5" fill="#444444"/><rect x="631" y="437" width="25" height="5" fill="#333333"/><rect x="656" y="437" width="42" height="5" fill="#222222"/><rect x="758" y="437" width="16" height="5" fill="#222222"/><rect x="88" y="442" width="17" height="4" fill="#222222"/><rect x="122" y="442" width="17" height="4" fill="#222222"/><rect x="139" y="442" width="9" height="4" fill="#555555"/><rect x="148" y="442" width="8" height="4" fill="#777777"/><rect x="156" y="442" width="9" height="4" fill="#aaaaaa"/><rect x="165" y="442" width="25" height="4" fill="#eeeeee"/><rect x="190" y="442" width="9" height="4" fill="#dddddd"/><rect x="199" y="442" width="17" height="4" fill="#cccccc"/><rect x="216" y="442" width="8" height="4" fill="#bbbbbb"/><rect x="224" y="442" width="169" height="4" fill="#999999"/><rect x="393" y="442" width="43" height="4" fill="#888888"/><rect x="436" y="442" width="42" height="4" fill="#777777"/><rect x="478" y="442" width="34" height="4" fill="#666666"/><rect x="512" y="442" width="17" height="4" fill="#555555"/><rect x="529" y="442" width="68" height="4" fill="#333333"/><rect x="597" y="442" width="8" height="4" fill="#444444"/><rect x="605" y="442" width="17" height="4" fill="#333333"/><rect x="622" y="442" width="68" height="4" fill="#222222"/><rect x="766" y="442" width="8" height="4" fill="#222222"/><rect x="139" y="446" width="9" height="4" fill="#333333"/><rect x="148" y="446" width="8" height="4" fill="#666666"/><rect x="156" y="446" width="9" height="4" fill="#aaaaaa"/><rect x="165" y="446" width="17" height="4" fill="#cccccc"/><rect x="182" y="446" width="8" height="4" fill="#bbbbbb"/><rect x="190" y="446" width="17" height="4" fill="#aaaaaa"/><rect x="207" y="446" width="17" height="4" fill="#999999"/><rect x="224" y="446" width="169" height="4" fill="#777777"/><rect x="393" y="446" width="43" height="4" fill="#666666"/><rect x="436" y="446" width="59" height="4" fill="#555555"/><rect x="495" y="446" width="34" height="4" fill="#444444"/><rect x="529" y="446" width="102" height="4" fill="#222222"/><rect x="639" y="446" width="17" height="4" fill="#222222"/><rect x="656" y="446" width="25" height="4" fill="#333333"/><rect x="681" y="446" width="9" height="4" fill="#222222"/><rect x="139" y="450" width="9" height="5" fill="#222222"/><rect x="148" y="450" width="8" height="5" fill="#555555"/><rect x="156" y="450" width="9" height="5" fill="#888888"/><rect x="165" y="450" width="17" height="5" fill="#999999"/><rect x="182" y="450" width="8" height="5" fill="#888888"/><rect x="190" y="450" width="9" height="5" fill="#777777"/><rect x="199" y="450" width="25" height="5" fill="#666666"/><rect x="224" y="450" width="8" height="5" fill="#555555"/><rect x="232" y="450" width="170" height="5" fill="#444444"/><rect x="402" y="450" width="93" height="5" fill="#333333"/><rect x="495" y="450" width="25" height="5" fill="#222222"/><rect x="647" y="450" width="34" height="5" fill="#333333"/><rect x="681" y="450" width="9" height="5" fill="#222222"/><rect x="766" y="450" width="8" height="5" fill="#222222"/><rect x="139" y="455" width="9" height="4" fill="#222222"/><rect x="148" y="455" width="8" height="4" fill="#444444"/><rect x="156" y="455" width="17" height="4" fill="#666666"/><rect x="173" y="455" width="9" height="4" fill="#555555"/><rect x="182" y="455" width="25" height="4" fill="#666666"/><rect x="207" y="455" width="42" height="4" fill="#555555"/><rect x="249" y="455" width="43" height="4" fill="#444444"/><rect x="292" y="455" width="110" height="4" fill="#333333"/><rect x="402" y="455" width="93" height="4" fill="#222222"/><rect x="647" y="455" width="9" height="4" fill="#333333"/><rect x="656" y="455" width="17" height="4" fill="#555555"/><rect x="673" y="455" width="8" height="4" fill="#444444"/><rect x="681" y="455" width="26" height="4" fill="#222222"/><rect x="758" y="455" width="16" height="4" fill="#222222"/><rect x="139" y="459" width="9" height="4" fill="#222222"/><rect x="148" y="459" width="8" height="4" fill="#333333"/><rect x="156" y="459" width="9" height="4" fill="#444444"/><rect x="165" y="459" width="8" height="4" fill="#555555"/><rect x="173" y="459" width="17" height="4" fill="#444444"/><rect x="190" y="459" width="9" height="4" fill="#555555"/><rect x="199" y="459" width="50" height="4" fill="#444444"/><rect x="249" y="459" width="51" height="4" fill="#333333"/><rect x="300" y="459" width="127" height="4" fill="#222222"/><rect x="470" y="459" width="8" height="4" fill="#222222"/><rect x="478" y="459" width="9" height="4" fill="#333333"/><rect x="487" y="459" width="25" height="4" fill="#222222"/><rect x="647" y="459" width="9" height="4" fill="#222222"/><rect x="656" y="459" width="25" height="4" fill="#333333"/><rect x="681" y="459" width="9" height="4" fill="#222222"/><rect x="732" y="459" width="17" height="4" fill="#222222"/><rect x="749" y="459" width="17" height="4" fill="#333333"/><rect x="766" y="459" width="8" height="4" fill="#222222"/><rect x="131" y="463" width="17" height="5" fill="#222222"/><rect x="148" y="463" width="34" height="5" fill="#333333"/><rect x="182" y="463" width="50" height="5" fill="#444444"/><rect x="232" y="463" width="17" height="5" fill="#333333"/><rect x="249" y="463" width="77" height="5" fill="#222222"/><rect x="351" y="463" width="17" height="5" fill="#222222"/><rect x="470" y="463" width="8" height="5" fill="#222222"/><rect x="478" y="463" width="17" height="5" fill="#333333"/><rect x="495" y="463" width="17" height="5" fill="#222222"/><rect x="656" y="463" width="17" height="5" fill="#222222"/><rect x="732" y="463" width="9" height="5" fill="#222222"/><rect x="741" y="463" width="8" height="5" fill="#333333"/><rect x="749" y="463" width="17" height="5" fill="#444444"/><rect x="766" y="463" width="8" height="5" fill="#222222"/><rect x="131" y="468" width="42" height="4" fill="#222222"/><rect x="173" y="468" width="9" height="4" fill="#333333"/><rect x="182" y="468" width="42" height="4" fill="#444444"/><rect x="224" y="468" width="25" height="4" fill="#333333"/><rect x="249" y="468" width="60" height="4" fill="#222222"/><rect x="470" y="468" width="8" height="4" fill="#222222"/><rect x="478" y="468" width="17" height="4" fill="#333333"/><rect x="495" y="468" width="17" height="4" fill="#222222"/><rect x="741" y="468" width="8" height="4" fill="#333333"/><rect x="749" y="468" width="9" height="4" fill="#444444"/><rect x="758" y="468" width="8" height="4" fill="#555555"/><rect x="766" y="468" width="8" height="4" fill="#222222"/><rect x="139" y="472" width="34" height="4" fill="#222222"/><rect x="173" y="472" width="9" height="4" fill="#333333"/><rect x="182" y="472" width="42" height="4" fill="#444444"/><rect x="224" y="472" width="25" height="4" fill="#333333"/><rect x="249" y="472" width="26" height="4" fill="#222222"/><rect x="275" y="472" width="17" height="4" fill="#333333"/><rect x="292" y="472" width="25" height="4" fill="#222222"/><rect x="470" y="472" width="8" height="4" fill="#222222"/><rect x="478" y="472" width="17" height="4" fill="#333333"/><rect x="495" y="472" width="8" height="4" fill="#222222"/><rect x="741" y="472" width="8" height="4" fill="#222222"/><rect x="749" y="472" width="17" height="4" fill="#333333"/><rect x="156" y="476" width="17" height="5" fill="#222222"/><rect x="173" y="476" width="9" height="5" fill="#333333"/><rect x="182" y="476" width="8" height="5" fill="#444444"/><rect x="190" y="476" width="26" height="5" fill="#555555"/><rect x="216" y="476" width="8" height="5" fill="#444444"/><rect x="224" y="476" width="42" height="5" fill="#333333"/><rect x="266" y="476" width="17" height="5" fill="#444444"/><rect x="283" y="476" width="17" height="5" fill="#333333"/><rect x="300" y="476" width="51" height="5" fill="#222222"/><rect x="478" y="476" width="17" height="5" fill="#222222"/><rect x="749" y="476" width="9" height="5" fill="#222222"/><rect x="173" y="481" width="9" height="4" fill="#222222"/><rect x="182" y="481" width="8" height="4" fill="#333333"/><rect x="190" y="481" width="9" height="4" fill="#444444"/><rect x="199" y="481" width="17" height="4" fill="#555555"/><rect x="216" y="481" width="16" height="4" fill="#333333"/><rect x="232" y="481" width="26" height="4" fill="#222222"/><rect x="258" y="481" width="8" height="4" fill="#333333"/><rect x="266" y="481" width="17" height="4" fill="#555555"/><rect x="283" y="481" width="17" height="4" fill="#444444"/><rect x="300" y="481" width="9" height="4" fill="#333333"/><rect x="309" y="481" width="51" height="4" fill="#222222"/><rect x="393" y="481" width="51" height="4" fill="#222222"/><rect x="182" y="485" width="34" height="4" fill="#333333"/><rect x="216" y="485" width="42" height="4" fill="#222222"/><rect x="258" y="485" width="8" height="4" fill="#333333"/><rect x="266" y="485" width="9" height="4" fill="#444444"/><rect x="275" y="485" width="8" height="4" fill="#555555"/><rect x="283" y="485" width="9" height="4" fill="#444444"/><rect x="292" y="485" width="17" height="4" fill="#333333"/><rect x="309" y="485" width="42" height="4" fill="#222222"/><rect x="393" y="485" width="9" height="4" fill="#222222"/><rect x="402" y="485" width="8" height="4" fill="#333333"/><rect x="410" y="485" width="17" height="4" fill="#444444"/><rect x="427" y="485" width="17" height="4" fill="#333333"/><rect x="444" y="485" width="34" height="4" fill="#222222"/><rect x="529" y="485" width="17" height="4" fill="#222222"/><rect x="715" y="485" width="17" height="4" fill="#222222"/><rect x="190" y="489" width="17" height="5" fill="#222222"/><rect x="266" y="489" width="34" height="5" fill="#333333"/><rect x="300" y="489" width="43" height="5" fill="#222222"/><rect x="385" y="489" width="8" height="5" fill="#222222"/><rect x="393" y="489" width="9" height="5" fill="#333333"/><rect x="402" y="489" width="8" height="5" fill="#555555"/><rect x="410" y="489" width="17" height="5" fill="#777777"/><rect x="427" y="489" width="9" height="5" fill="#666666"/><rect x="436" y="489" width="8" height="5" fill="#555555"/><rect x="444" y="489" width="34" height="5" fill="#444444"/><rect x="478" y="489" width="17" height="5" fill="#333333"/><rect x="495" y="489" width="17" height="5" fill="#222222"/><rect x="520" y="489" width="51" height="5" fill="#222222"/><rect x="88" y="494" width="17" height="4" fill="#222222"/><rect x="266" y="494" width="77" height="4" fill="#222222"/><rect x="385" y="494" width="8" height="4" fill="#222222"/><rect x="393" y="494" width="9" height="4" fill="#444444"/><rect x="402" y="494" width="25" height="4" fill="#888888"/><rect x="427" y="494" width="9" height="4" fill="#777777"/><rect x="436" y="494" width="17" height="4" fill="#666666"/><rect x="453" y="494" width="34" height="4" fill="#555555"/><rect x="487" y="494" width="8" height="4" fill="#444444"/><rect x="495" y="494" width="8" height="4" fill="#333333"/><rect x="503" y="494" width="34" height="4" fill="#222222"/><rect x="537" y="494" width="9" height="4" fill="#333333"/><rect x="546" y="494" width="85" height="4" fill="#222222"/><rect x="639" y="494" width="8" height="4" fill="#222222"/><rect x="758" y="494" width="8" height="4" fill="#222222"/><rect x="88" y="498" width="85" height="5" fill="#222222"/><rect x="385" y="498" width="8" height="5" fill="#222222"/><rect x="393" y="498" width="9" height="5" fill="#444444"/><rect x="402" y="498" width="8" height="5" fill="#888888"/><rect x="410" y="498" width="17" height="5" fill="#999999"/><rect x="427" y="498" width="9" height="5" fill="#888888"/><rect x="436" y="498" width="8" height="5" fill="#777777"/><rect x="444" y="498" width="17" height="5" fill="#666666"/><rect x="461" y="498" width="26" height="5" fill="#555555"/><rect x="487" y="498" width="8" height="5" fill="#444444"/><rect x="495" y="498" width="93" height="5" fill="#333333"/><rect x="588" y="498" width="85" height="5" fill="#222222"/><rect x="681" y="498" width="34" height="5" fill="#222222"/><rect x="758" y="498" width="8" height="5" fill="#222222"/><rect x="88" y="503" width="9" height="4" fill="#333333"/><rect x="97" y="503" width="76" height="4" fill="#222222"/><rect x="393" y="503" width="9" height="4" fill="#222222"/><rect x="402" y="503" width="8" height="4" fill="#777777"/><rect x="410" y="503" width="17" height="4" fill="#888888"/><rect x="427" y="503" width="9" height="4" fill="#777777"/><rect x="436" y="503" width="8" height="4" fill="#666666"/><rect x="444" y="503" width="17" height="4" fill="#555555"/><rect x="461" y="503" width="17" height="4" fill="#444444"/><rect x="478" y="503" width="25" height="4" fill="#333333"/><rect x="503" y="503" width="128" height="4" fill="#222222"/><rect x="690" y="503" width="8" height="4" fill="#222222"/><rect x="88" y="507" width="34" height="4" fill="#222222"/><rect x="148" y="507" width="25" height="4" fill="#222222"/><rect x="393" y="507" width="9" height="4" fill="#222222"/><rect x="402" y="507" width="8" height="4" fill="#444444"/><rect x="410" y="507" width="17" height="4" fill="#666666"/><rect x="427" y="507" width="17" height="4" fill="#555555"/><rect x="444" y="507" width="9" height="4" fill="#444444"/><rect x="453" y="507" width="42" height="4" fill="#333333"/><rect x="495" y="507" width="8" height="4" fill="#222222"/><rect x="334" y="511" width="17" height="5" fill="#222222"/><rect x="393" y="511" width="9" height="5" fill="#222222"/><rect x="402" y="511" width="8" height="5" fill="#333333"/><rect x="410" y="511" width="17" height="5" fill="#444444"/><rect x="427" y="511" width="26" height="5" fill="#222222"/><rect x="334" y="516" width="26" height="4" fill="#222222"/><rect x="393" y="516" width="34" height="4" fill="#222222"/><rect x="97" y="520" width="17" height="4" fill="#222222"/><rect x="334" y="520" width="26" height="4" fill="#222222"/><rect x="97" y="524" width="25" height="5" fill="#222222"/></g>
<polygon points="589.40,421.40 590.90,426.03 595.77,426.03 591.83,428.89 593.34,433.52 589.40,430.66 585.46,433.52 586.97,428.89 583.03,426.03 587.90,426.03" fill="none" stroke="#1e90ff" stroke-width="1.2"/>
<rect x="87" y="422" width="691" height="1" fill="#ff0000"/>
<rect x="87" y="451" width="691" height="1" fill="#ff0000"/>
<rect x="87" y="436" width="691" height="1" fill="#000"/>
<rect x="87" y="335" width="3" height="198" fill="#d4282c"/>
<rect x="88" y="334" width="688" height="3" fill="#d4282c"/>
<rect x="775" y="335" width="3" height="198" fill="#d4282c"/>
<rect x="88" y="532" width="688" height="3" fill="#d4282c"/>
<rect x="87" y="523" width="3" height="12" fill="#d4282c"/>
<rect x="87" y="334" width="3" height="11" fill="#d4282c"/>
<rect x="95" y="528" width="3" height="7" fill="#d4282c"/>
<rect x="95" y="334" width="3" height="6" fill="#d4282c"/>
<rect x="104" y="528" width="3" height="7" fill="#d4282c"/>
<rect x="104" y="334" width="3" height="6" fill="#d4282c"/>
<rect x="112" y="528" width="3" height="7" fill="#d4282c"/>
<rect x="112" y="334" width="3" height="6" fill="#d4282c"/>
<rect x="121" y="528" width="3" height="7" fill="#d4282c"/>
<rect x="121" y="334" width="3" height="6" fill="#d4282c"/>
<rect x="129" y="528" width="3" height="7" fill="#d4282c"/>
<rect x="129" y="334" width="3" height="6" fill="#d4282c"/>
<rect x="138" y="528" width="3" height="7" fill="#d4282c"/>
<rect x="138" y="334" width="3" height="6" fill="#d4282c"/>
<rect x="146" y="528" width="3" height="7" fill="#d4282c"/>
<rect x="146" y="334" width="3" height="6" fill="#d4282c"/>
<rect x="155" y="528" width="3" height="7" fill="#d4282c"/>
<rect x="155" y="334" width="3" height="6" fill="#d4282c"/>
<rect x="163" y="528" width="3" height="7" fill="#d4282c"/>
<rect x="163" y="334" width="3" height="6" fill="#d4282c"/>
<rect x="172" y="523" width="3" height="12" fill="#d4282c"/>
<rect x="172" y="334" width="3" height="11" fill="#d4282c"/>
<rect x="180" y="528" width="3" height="7" fill="#d4282c"/>
<rect x="180" y="334" width="3" height="6" fill="#d4282c"/>
<rect x="189" y="528" width="3" height="7" fill="#d4282c"/>
<rect x="189" y="334" width="3" height="6" fill="#d4282c"/>
<rect x="197" y="528" width="3" height="7" fill="#d4282c"/>
<rect x="197" y="334" width="3" height="6" fill="#d4282c"/>
<rect x="206" y="528" width="3" height="7" fill="#d4282c"/>
<rect x="206" y="334" width="3" height="6" fill="#d4282c"/>
<rect x="214" y="528" width="3" height="7" fill="#d4282c"/>
<rect x="214" y="334" width="3" height="6" fill="#d4282c"/>
<rect x="223" y="528" width="3" height="7" fill="#d4282c"/>
<rect x="223" y="334" width="3" height="6" fill="#d4282c"/>
<rect x="231" y="528" width="3" height="7" fill="#d4282c"/>
<rect x="231" y="334" width="3" height="6" fill="#d4282c"/>
<rect x="240" y="528" width="3" height="7" fill="#d4282c"/>
<rect x="240" y="334" width="3" height="6" fill="#d4282c"/>
<rect x="248" y="528" width="3" height="7" fill="#d4282c"/>
<rect x="248" y="334" width="3" height="6" fill="#d4282c"/>
<rect x="257" y="523" width="3" height="12" fill="#d4282c"/>
<rect x="257" y="334" width="3" height="11" fill="#d4282c"/>
<rect x="265" y="528" width="3" height="7" fill="#d4282c"/>
<rect x="265" y="334" width="3" height="6" fill="#d4282c"/>
<rect x="274" y="528" width="3" height="7" fill="#d4282c"/>
<rect x="274" y="334" width="3" height="6" fill="#d4282c"/>
<rect x="282" y="528" width="3" height="7" fill="#d4282c"/>
<rect x="282" y="334" width="3" height="6" fill="#d4282c"/>
<rect x="291" y="528" width="3" height="7" fill="#d4282c"/>
<rect x="291" y="334" width="3" height="6" fill="#d4282c"/>
<rect x="299" y="528" width="3" height="7" fill="#d4282c"/>
<rect x="299" y="334" width="3" height="6" fill="#d4282c"/>
<rect x="308" y="528" width="3" height="7" fill="#d4282c"/>
<rect x="308" y="334" width="3" height="6" fill="#d4282c"/>
<rect x="316" y="528" width="3" height="7" fill="#d4282c"/>
<rect x="316" y="334" width="3" height="6" fill="#d4282c"/>
<rect x="325" y="528" width="3" height="7" fill="#d4282c"/>
<rect x="325" y="334" width="3" height="6" fill="#d4282c"/>
<rect x="333" y="528" width="3" height="7" fill="#d4282c"/>
<rect x="333" y="334" width="3" height="6" fill="#d4282c"/>
<rect x="342" y="523" width="3" height="12" fill="#d4282c"/>
<rect x="342" y="334" width="3" height="11" fill="#d4282c"/>
<rect x="350" y="528" width="3" height="7" fill="#d4282c"/>
<rect x="350" y="334" width="3" height="6" fill="#d4282c"/>
<rect x="359" y="528" width="3" height="7" fill="#d4282c"/>
<rect x="359" y="334" width="3" height="6" fill="#d4282c"/>
<rect x="367" y="528" width="3" height="7" fill="#d4282c"/>
<rect x="367" y="334" width="3" height="6" fill="#d4282c"/>
<rect x="376" y="528" width="3" height="7" fill="#d4282c"/>
<rect x="376" y="334" width="3" height="6" fill="#d4282c"/>
<rect x="384" y="528" width="3" height="7" fill="#d4282c"/>
<rect x="384" y="334" width="3" height="6" fill="#d4282c"/>
<rect x="393" y="528" width="3" height="7" fill="#d4282c"/>
<rect x="393" y="334" width="3" height="6" fill="#d4282c"/>
<rect x="401" y="528" width="3" height="7" fill="#d4282c"/>
<rect x="401" y="334" width="3" height="6" fill="#d4282c"/>
<rect x="410" y="528" width="3" height="7" fill="#d4282c"/>
<rect x="410" y="334" width="3" height="6" fill="#d4282c"/>
<rect x="418" y="528" width="3" height="7" fill="#d4282c"/>
<rect x="418" y="334" width="3" height="6" fill="#d4282c"/>
<rect x="427" y="523" width="3" height="12" fill="#d4282c"/>
<rect x="427" y="334" width="3" height="11" fill="#d4282c"/>
<rect x="435" y="528" width="3" height="7" fill="#d4282c"/>
<rect x="435" y="334" width="3" height="6" fill="#d4282c"/>
<rect x="444" y="528" width="3" height="7" fill="#d4282c"/>
<rect x="444" y="334" width="3" height="6" fill="#d4282c"/>
<rect x="452" y="528" width="3" height="7" fill="#d4282c"/>
<rect x="452" y="334" width="3" height="6" fill="#d4282c"/>
<rect x="461" y="528" width="3" height="7" fill="#d4282c"/>
<rect x="461" y="334" width="3" height="6" fill="#d4282c"/>
<rect x="469" y="528" width="3" height="7" fill="#d4282c"/>
<rect x="469" y="334" width="3" height="6" fill="#d4282c"/>
<rect x="478" y="528" width="3" height="7" fill="#d4282c"/>
<rect x="478" y="334" width="3" height="6" fill="#d4282c"/>
<rect x="486" y="528" width="3" height="7" fill="#d4282c"/>
<rect x="486" y="334" width="3" height="6" fill="#d4282c"/>
<rect x="495" y="528" width="3" height="7" fill="#d4282c"/>
<rect x="495" y="334" width="3" height="6" fill="#d4282c"/>
<rect x="503" y="528" width="3" height="7" fill="#d4282c"/>
<rect x="503" y="334" width="3" height="6" fill="#d4282c"/>
<rect x="512" y="523" width="3" height="12" fill="#d4282c"/>
<rect x="512" y="334" width="3" height="11" fill="#d4282c"/>
<rect x="520" y="528" width="3" height="7" fill="#d4282c"/>
<rect x="520" y="334" width="3" height="6" fill="#d4282c"/>
<rect x="529" y="528" width="3" height="7" fill="#d4282c"/>
<rect x="529" y="334" width="3" height="6" fill="#d4282c"/>
<rect x="537" y="528" width="3" height="7" fill="#d4282c"/>
<rect x="537" y="334" width="3" height="6" fill="#d4282c"/>
<rect x="546" y="528" width="3" height="7" fill="#d4282c"/>
<rect x="546" y="334" width="3" height="6" fill="#d4282c"/>
<rect x="554" y="528" width="3" height="7" fill="#d4282c"/>
<rect x="554" y="334" width="3" height="6" fill="#d4282c"/>
<rect x="563" y="528" width="3" height="7" fill="#d4282c"/>
<rect x="563" y="334" width="3" height="6" fill="#d4282c"/>
<rect x="571" y="528" width="3" height="7" fill="#d4282c"/>
<rect x="571" y="334" width="3" height="6" fill="#d4282c"/>
<rect x="580" y="528" width="3" height="7" fill="#d4282c"/>
<rect x="580" y="334" width="3" height="6" fill="#d4282c"/>
<rect x="588" y="528" width="3" height="7" fill="#d4282c"/>
<rect x="588" y="334" width="3" height="6" fill="#d4282c"/>
<rect x="597" y="523" width="3" height="12" fill="#d4282c"/>
<rect x="597" y="334" width="3" height="11" fill="#d4282c"/>
<rect x="605" y="528" width="3" height="7" fill="#d4282c"/>
<rect x="605" y="334" width="3" height="6" fill="#d4282c"/>
<rect x="614" y="528" width="3" height="7" fill="#d4282c"/>
<rect x="614" y="334" width="3" height="6" fill="#d4282c"/>
<rect x="622" y="528" width="3" height="7" fill="#d4282c"/>
<rect x="622" y="334" width="3" height="6" fill="#d4282c"/>
<rect x="631" y="528" width="3" height="7" fill="#d4282c"/>
<rect x="631" y="334" width="3" height="6" fill="#d4282c"/>
<rect x="639" y="528" width="3" height="7" fill="#d4282c"/>
<rect x="639" y="334" width="3" height="6" fill="#d4282c"/>
<rect x="648" y="528" width="3" height="7" fill="#d4282c"/>
<rect x="648" y="334" width="3" height="6" fill="#d4282c"/>
<rect x="656" y="528" width="3" height="7" fill="#d4282c"/>
<rect x="656" y="334" width="3" height="6" fill="#d4282c"/>
<rect x="665" y="528" width="3" height="7" fill="#d4282c"/>
<rect x="665" y="334" width="3" height="6" fill="#d4282c"/>
<rect x="673" y="528" width="3" height="7" fill="#d4282c"/>
<rect x="673" y="334" width="3" height="6" fill="#d4282c"/>
<rect x="682" y="523" width="3" height="12" fill="#d4282c"/>
<rect x="682" y="334" width="3" height="11" fill="#d4282c"/>
<rect x="690" y="528" width="3" height="7" fill="#d4282c"/>
<rect x="690" y="334" width="3" height="6" fill="#d4282c"/>
<rect x="699" y="528" width="3" height="7" fill="#d4282c"/>
<rect x="699" y="334" width="3" height="6" fill="#d4282c"/>
<rect x="707" y="528" width="3" height="7" fill="#d4282c"/>
<rect x="707" y="334" width="3" height="6" fill="#d4282c"/>
<rect x="716" y="528" width="3" height="7" fill="#d4282c"/>
<rect x="716" y="334" width="3" height="6" fill="#d4282c"/>
<rect x="724" y="528" width="3" height="7" fill="#d4282c"/>
<rect x="724" y="334" width="3" height="6" fill="#d4282c"/>
<rect x="733" y="528" width="3" height="7" fill="#d4282c"/>
<rect x="733" y="334" width="3" height="6" fill="#d4282c"/>
<rect x="741" y="528" width="3" height="7" fill="#d4282c"/>
<rect x="741" y="334" width="3" height="6" fill="#d4282c"/>
<rect x="750" y="528" width="3" height="7" fill="#d4282c"/>
<rect x="750" y="334" width="3" height="6" fill="#d4282c"/>
<rect x="758" y="528" width="3" height="7" fill="#d4282c"/>
<rect x="758" y="334" width="3" height="6" fill="#d4282c"/>
<rect x="767" y="523" width="3" height="12" fill="#d4282c"/>
<rect x="767" y="334" width="3" height="11" fill="#d4282c"/>
<rect x="775" y="528" width="3" height="7" fill="#d4282c"/>
<rect x="775" y="334" width="3" height="6" fill="#d4282c"/>
<rect x="87" y="532" width="8" height="3" fill="#d4282c"/>
<rect x="87" y="484" width="8" height="3" fill="#d4282c"/>
<rect x="87" y="435" width="8" height="3" fill="#d4282c"/>
<rect x="87" y="387" width="8" height="3" fill="#d4282c"/>
<rect x="87" y="339" width="8" height="3" fill="#d4282c"/>
<path d="M69.38 314.57L70.62 313.98L72.50 312.21L72.50 324.60M92.50 312.21L86.25 320.47L95.62 320.47M92.50 312.21L92.50 324.60M101.88 312.21L100.00 312.80L99.38 313.98L99.38 315.16L100.00 316.34L101.25 316.93L103.75 317.52L105.62 318.11L106.88 319.29L107.50 320.47L107.50 322.24L106.88 323.42L106.25 324.01L104.38 324.60L101.88 324.60L100.00 324.01L99.38 323.42L98.75 322.24L98.75 320.47L99.38 319.29L100.62 318.11L102.50 317.52L105.00 316.93L106.25 316.34L106.88 315.16L106.88 313.98L106.25 312.80L104.38 312.21L101.88 312.21" fill="none" stroke="#c8101a" stroke-width="2.00" stroke-linecap="butt" stroke-linejoin="miter" stroke-miterlimit="1.6" shape-rendering="crispEdges"/><path d="M78.25 322.60L84.25 322.60L81.25 327.10Z" fill="#c8101a" shape-rendering="crispEdges"/>
<path d="M153.06 315.16L153.06 314.57L153.69 313.39L154.31 312.80L155.56 312.21L158.06 312.21L159.31 312.80L159.94 313.39L160.56 314.57L160.56 315.75L159.94 316.93L158.69 318.70L152.44 324.60L161.19 324.60M177.44 312.21L171.19 320.47L180.56 320.47M177.44 312.21L177.44 324.60M186.81 312.21L184.94 312.80L184.31 313.98L184.31 315.16L184.94 316.34L186.19 316.93L188.69 317.52L190.56 318.11L191.81 319.29L192.44 320.47L192.44 322.24L191.81 323.42L191.19 324.01L189.31 324.60L186.81 324.60L184.94 324.01L184.31 323.42L183.69 322.24L183.69 320.47L184.31 319.29L185.56 318.11L187.44 317.52L189.94 316.93L191.19 316.34L191.81 315.16L191.81 313.98L191.19 312.80L189.31 312.21L186.81 312.21" fill="none" stroke="#c8101a" stroke-width="2.00" stroke-linecap="butt" stroke-linejoin="miter" stroke-miterlimit="1.6" shape-rendering="crispEdges"/><path d="M163.19 322.60L169.19 322.60L166.19 327.10Z" fill="#c8101a" shape-rendering="crispEdges"/>
<path d="M238.63 312.21L245.50 312.21L241.75 316.93L243.63 316.93L244.88 317.52L245.50 318.11L246.13 319.88L246.13 321.06L245.50 322.83L244.25 324.01L242.38 324.60L240.50 324.60L238.63 324.01L238.00 323.42L237.38 322.24M257.38 312.21L264.25 312.21L260.50 316.93L262.38 316.93L263.63 317.52L264.25 318.11L264.88 319.88L264.88 321.06L264.25 322.83L263.00 324.01L261.13 324.60L259.25 324.60L257.38 324.01L256.75 323.42L256.13 322.24M272.38 312.21L270.50 312.80L269.25 314.57L268.63 317.52L268.63 319.29L269.25 322.24L270.50 324.01L272.38 324.60L273.63 324.60L275.50 324.01L276.75 322.24L277.38 319.29L277.38 317.52L276.75 314.57L275.50 312.80L273.63 312.21L272.38 312.21" fill="none" stroke="#c8101a" stroke-width="2.00" stroke-linecap="butt" stroke-linejoin="miter" stroke-miterlimit="1.6" shape-rendering="crispEdges"/><path d="M248.13 322.60L254.13 322.60L251.13 327.10Z" fill="#c8101a" shape-rendering="crispEdges"/>
<path d="M323.57 312.21L330.44 312.21L326.69 316.93L328.57 316.93L329.82 317.52L330.44 318.11L331.07 319.88L331.07 321.06L330.44 322.83L329.19 324.01L327.32 324.60L325.44 324.60L323.57 324.01L322.94 323.42L322.32 322.24M344.19 312.21L342.32 312.80L341.69 313.98L341.69 315.16L342.32 316.34L343.57 316.93L346.07 317.52L347.94 318.11L349.19 319.29L349.82 320.47L349.82 322.24L349.19 323.42L348.57 324.01L346.69 324.60L344.19 324.60L342.32 324.01L341.69 323.42L341.07 322.24L341.07 320.47L341.69 319.29L342.94 318.11L344.82 317.52L347.32 316.93L348.57 316.34L349.19 315.16L349.19 313.98L348.57 312.80L346.69 312.21L344.19 312.21M359.82 312.21L353.57 320.47L362.94 320.47M359.82 312.21L359.82 324.60" fill="none" stroke="#c8101a" stroke-width="2.00" stroke-linecap="butt" stroke-linejoin="miter" stroke-miterlimit="1.6" shape-rendering="crispEdges"/><path d="M333.07 322.60L339.07 322.60L336.07 327.10Z" fill="#c8101a" shape-rendering="crispEdges"/>
<path d="M413.51 312.21L407.26 320.47L416.63 320.47M413.51 312.21L413.51 324.60M426.63 315.16L426.63 314.57L427.26 313.39L427.88 312.80L429.13 312.21L431.63 312.21L432.88 312.80L433.51 313.39L434.13 314.57L434.13 315.75L433.51 316.93L432.26 318.70L426.01 324.60L434.76 324.60M446.63 316.34L446.01 318.11L444.76 319.29L442.88 319.88L442.26 319.88L440.38 319.29L439.13 318.11L438.51 316.34L438.51 315.75L439.13 313.98L440.38 312.80L442.26 312.21L442.88 312.21L444.76 312.80L446.01 313.98L446.63 316.34L446.63 319.29L446.01 322.24L444.76 324.01L442.88 324.60L441.63 324.60L439.76 324.01L439.13 322.83" fill="none" stroke="#c8101a" stroke-width="2.00" stroke-linecap="butt" stroke-linejoin="miter" stroke-miterlimit="1.6" shape-rendering="crispEdges"/><path d="M418.01 322.60L424.01 322.60L421.01 327.10Z" fill="#c8101a" shape-rendering="crispEdges"/>
<path d="M498.45 312.21L492.20 320.47L501.58 320.47M498.45 312.21L498.45 324.60M519.08 313.98L518.45 312.80L516.58 312.21L515.33 312.21L513.45 312.80L512.20 314.57L511.58 317.52L511.58 320.47L512.20 322.83L513.45 324.01L515.33 324.60L515.95 324.60L517.83 324.01L519.08 322.83L519.70 321.06L519.70 320.47L519.08 318.70L517.83 317.52L515.95 316.93L515.33 316.93L513.45 317.52L512.20 318.70L511.58 320.47M532.20 312.21L525.95 324.60M523.45 312.21L532.20 312.21" fill="none" stroke="#c8101a" stroke-width="2.00" stroke-linecap="butt" stroke-linejoin="miter" stroke-miterlimit="1.6" shape-rendering="crispEdges"/><path d="M502.95 322.60L508.95 322.60L505.95 327.10Z" fill="#c8101a" shape-rendering="crispEdges"/>
<path d="M584.64 312.21L578.39 312.21L577.76 317.52L578.39 316.93L580.26 316.34L582.14 316.34L584.01 316.93L585.26 318.11L585.89 319.88L585.89 321.06L585.26 322.83L584.01 324.01L582.14 324.60L580.26 324.60L578.39 324.01L577.76 323.42L577.14 322.24M599.64 312.21L597.76 312.80L596.51 314.57L595.89 317.52L595.89 319.29L596.51 322.24L597.76 324.01L599.64 324.60L600.89 324.60L602.76 324.01L604.01 322.24L604.64 319.29L604.64 317.52L604.01 314.57L602.76 312.80L600.89 312.21L599.64 312.21M610.26 314.57L611.51 313.98L613.39 312.21L613.39 324.60" fill="none" stroke="#c8101a" stroke-width="2.00" stroke-linecap="butt" stroke-linejoin="miter" stroke-miterlimit="1.6" shape-rendering="crispEdges"/><path d="M587.89 322.60L593.89 322.60L590.89 327.10Z" fill="#c8101a" shape-rendering="crispEdges"/>
<path d="M669.58 312.21L663.33 312.21L662.70 317.52L663.33 316.93L665.20 316.34L667.08 316.34L668.95 316.93L670.20 318.11L670.83 319.88L670.83 321.06L670.20 322.83L668.95 324.01L667.08 324.60L665.20 324.60L663.33 324.01L662.70 323.42L662.08 322.24M682.08 312.21L688.95 312.21L685.20 316.93L687.08 316.93L688.33 317.52L688.95 318.11L689.58 319.88L689.58 321.06L688.95 322.83L687.70 324.01L685.83 324.60L683.95 324.60L682.08 324.01L681.45 323.42L680.83 322.24M693.95 315.16L693.95 314.57L694.58 313.39L695.20 312.80L696.45 312.21L698.95 312.21L700.20 312.80L700.83 313.39L701.45 314.57L701.45 315.75L700.83 316.93L699.58 318.70L693.33 324.60L702.08 324.60" fill="none" stroke="#c8101a" stroke-width="2.00" stroke-linecap="butt" stroke-linejoin="miter" stroke-miterlimit="1.6" shape-rendering="crispEdges"/><path d="M672.83 322.60L678.83 322.60L675.83 327.10Z" fill="#c8101a" shape-rendering="crispEdges"/>
<path d="M754.52 312.21L748.27 312.21L747.64 317.52L748.27 316.93L750.14 316.34L752.02 316.34L753.89 316.93L755.14 318.11L755.77 319.88L755.77 321.06L755.14 322.83L753.89 324.01L752.02 324.60L750.14 324.60L748.27 324.01L747.64 323.42L747.02 322.24M773.27 312.21L767.02 312.21L766.39 317.52L767.02 316.93L768.89 316.34L770.77 316.34L772.64 316.93L773.89 318.11L774.52 319.88L774.52 321.06L773.89 322.83L772.64 324.01L770.77 324.60L768.89 324.60L767.02 324.01L766.39 323.42L765.77 322.24M785.77 312.21L779.52 312.21L778.89 317.52L779.52 316.93L781.39 316.34L783.27 316.34L785.14 316.93L786.39 318.11L787.02 319.88L787.02 321.06L786.39 322.83L785.14 324.01L783.27 324.60L781.39 324.60L779.52 324.01L778.89 323.42L778.27 322.24" fill="none" stroke="#c8101a" stroke-width="2.00" stroke-linecap="butt" stroke-linejoin="miter" stroke-miterlimit="1.6" shape-rendering="crispEdges"/><path d="M757.77 322.60L763.77 322.60L760.77 327.10Z" fill="#c8101a" shape-rendering="crispEdges"/>
<path d="M86.38 550.11L84.50 550.70L83.25 552.47L82.62 555.42L82.62 557.19L83.25 560.14L84.50 561.91L86.38 562.50L87.62 562.50L89.50 561.91L90.75 560.14L91.38 557.19L91.38 555.42L90.75 552.47L89.50 550.70L87.62 550.11L86.38 550.11" fill="none" stroke="#c8101a" stroke-width="2.00" stroke-linecap="butt" stroke-linejoin="miter" stroke-miterlimit="1.6" shape-rendering="crispEdges"/>
<path d="M163.19 552.47L164.44 551.88L166.31 550.11L166.31 562.50M177.56 550.11L175.69 550.70L174.44 552.47L173.81 555.42L173.81 557.19L174.44 560.14L175.69 561.91L177.56 562.50L178.81 562.50L180.69 561.91L181.94 560.14L182.56 557.19L182.56 555.42L181.94 552.47L180.69 550.70L178.81 550.11L177.56 550.11" fill="none" stroke="#c8101a" stroke-width="2.00" stroke-linecap="butt" stroke-linejoin="miter" stroke-miterlimit="1.6" shape-rendering="crispEdges"/>
<path d="M246.88 553.06L246.88 552.47L247.50 551.29L248.13 550.70L249.38 550.11L251.88 550.11L253.13 550.70L253.75 551.29L254.38 552.47L254.38 553.65L253.75 554.83L252.50 556.60L246.25 562.50L255.00 562.50M262.50 550.11L260.63 550.70L259.38 552.47L258.75 555.42L258.75 557.19L259.38 560.14L260.63 561.91L262.50 562.50L263.75 562.50L265.63 561.91L266.88 560.14L267.50 557.19L267.50 555.42L266.88 552.47L265.63 550.70L263.75 550.11L262.50 550.11" fill="none" stroke="#c8101a" stroke-width="2.00" stroke-linecap="butt" stroke-linejoin="miter" stroke-miterlimit="1.6" shape-rendering="crispEdges"/>
<path d="M332.44 550.11L339.32 550.11L335.57 554.83L337.44 554.83L338.69 555.42L339.32 556.01L339.94 557.78L339.94 558.96L339.32 560.73L338.07 561.91L336.19 562.50L334.32 562.50L332.44 561.91L331.82 561.32L331.19 560.14M347.44 550.11L345.57 550.70L344.32 552.47L343.69 555.42L343.69 557.19L344.32 560.14L345.57 561.91L347.44 562.50L348.69 562.50L350.57 561.91L351.82 560.14L352.44 557.19L352.44 555.42L351.82 552.47L350.57 550.70L348.69 550.11L347.44 550.11" fill="none" stroke="#c8101a" stroke-width="2.00" stroke-linecap="butt" stroke-linejoin="miter" stroke-miterlimit="1.6" shape-rendering="crispEdges"/>
<path d="M422.38 550.11L416.13 558.37L425.51 558.37M422.38 550.11L422.38 562.50M432.38 550.11L430.51 550.70L429.26 552.47L428.63 555.42L428.63 557.19L429.26 560.14L430.51 561.91L432.38 562.50L433.63 562.50L435.51 561.91L436.76 560.14L437.38 557.19L437.38 555.42L436.76 552.47L435.51 550.70L433.63 550.11L432.38 550.11" fill="none" stroke="#c8101a" stroke-width="2.00" stroke-linecap="butt" stroke-linejoin="miter" stroke-miterlimit="1.6" shape-rendering="crispEdges"/>
<path d="M508.58 550.11L502.33 550.11L501.70 555.42L502.33 554.83L504.20 554.24L506.08 554.24L507.95 554.83L509.20 556.01L509.83 557.78L509.83 558.96L509.20 560.73L507.95 561.91L506.08 562.50L504.20 562.50L502.33 561.91L501.70 561.32L501.08 560.14M517.33 550.11L515.45 550.70L514.20 552.47L513.58 555.42L513.58 557.19L514.20 560.14L515.45 561.91L517.33 562.50L518.58 562.50L520.45 561.91L521.70 560.14L522.33 557.19L522.33 555.42L521.70 552.47L520.45 550.70L518.58 550.11L517.33 550.11" fill="none" stroke="#c8101a" stroke-width="2.00" stroke-linecap="butt" stroke-linejoin="miter" stroke-miterlimit="1.6" shape-rendering="crispEdges"/>
<path d="M594.14 551.88L593.51 550.70L591.64 550.11L590.39 550.11L588.51 550.70L587.26 552.47L586.64 555.42L586.64 558.37L587.26 560.73L588.51 561.91L590.39 562.50L591.01 562.50L592.89 561.91L594.14 560.73L594.76 558.96L594.76 558.37L594.14 556.60L592.89 555.42L591.01 554.83L590.39 554.83L588.51 555.42L587.26 556.60L586.64 558.37M602.26 550.11L600.39 550.70L599.14 552.47L598.51 555.42L598.51 557.19L599.14 560.14L600.39 561.91L602.26 562.50L603.51 562.50L605.39 561.91L606.64 560.14L607.26 557.19L607.26 555.42L606.64 552.47L605.39 550.70L603.51 550.11L602.26 550.11" fill="none" stroke="#c8101a" stroke-width="2.00" stroke-linecap="butt" stroke-linejoin="miter" stroke-miterlimit="1.6" shape-rendering="crispEdges"/>
<path d="M679.70 550.11L673.45 562.50M670.95 550.11L679.70 550.11M687.20 550.11L685.33 550.70L684.08 552.47L683.45 555.42L683.45 557.19L684.08 560.14L685.33 561.91L687.20 562.50L688.45 562.50L690.33 561.91L691.58 560.14L692.20 557.19L692.20 555.42L691.58 552.47L690.33 550.70L688.45 550.11L687.20 550.11" fill="none" stroke="#c8101a" stroke-width="2.00" stroke-linecap="butt" stroke-linejoin="miter" stroke-miterlimit="1.6" shape-rendering="crispEdges"/>
<path d="M759.02 550.11L757.14 550.70L756.52 551.88L756.52 553.06L757.14 554.24L758.39 554.83L760.89 555.42L762.77 556.01L764.02 557.19L764.64 558.37L764.64 560.14L764.02 561.32L763.39 561.91L761.52 562.50L759.02 562.50L757.14 561.91L756.52 561.32L755.89 560.14L755.89 558.37L756.52 557.19L757.77 556.01L759.64 555.42L762.14 554.83L763.39 554.24L764.02 553.06L764.02 551.88L763.39 550.70L761.52 550.11L759.02 550.11M772.14 550.11L770.27 550.70L769.02 552.47L768.39 555.42L768.39 557.19L769.02 560.14L770.27 561.91L772.14 562.50L773.39 562.50L775.27 561.91L776.52 560.14L777.14 557.19L777.14 555.42L776.52 552.47L775.27 550.70L773.39 550.11L772.14 550.11" fill="none" stroke="#c8101a" stroke-width="2.00" stroke-linecap="butt" stroke-linejoin="miter" stroke-miterlimit="1.6" shape-rendering="crispEdges"/>
<path d="M57.50 338.56L57.50 337.97L58.12 336.79L58.75 336.20L60.00 335.61L62.50 335.61L63.75 336.20L64.38 336.79L65.00 337.97L65.00 339.15L64.38 340.33L63.12 342.10L56.88 348.00L65.62 348.00M73.12 335.61L71.25 336.20L70.00 337.97L69.38 340.92L69.38 342.69L70.00 345.64L71.25 347.41L73.12 348.00L74.38 348.00L76.25 347.41L77.50 345.64L78.12 342.69L78.12 340.92L77.50 337.97L76.25 336.20L74.38 335.61L73.12 335.61" fill="none" stroke="#c8101a" stroke-width="2.00" stroke-linecap="butt" stroke-linejoin="miter" stroke-miterlimit="1.6" shape-rendering="crispEdges"/>
<path d="M58.75 385.97L60.00 385.38L61.88 383.61L61.88 396.00M73.12 383.61L71.25 384.20L70.00 385.97L69.38 388.92L69.38 390.69L70.00 393.64L71.25 395.41L73.12 396.00L74.38 396.00L76.25 395.41L77.50 393.64L78.12 390.69L78.12 388.92L77.50 385.97L76.25 384.20L74.38 383.61L73.12 383.61" fill="none" stroke="#c8101a" stroke-width="2.00" stroke-linecap="butt" stroke-linejoin="miter" stroke-miterlimit="1.6" shape-rendering="crispEdges"/>
<path d="M73.12 431.61L71.25 432.20L70.00 433.97L69.38 436.92L69.38 438.69L70.00 441.64L71.25 443.41L73.12 444.00L74.38 444.00L76.25 443.41L77.50 441.64L78.12 438.69L78.12 436.92L77.50 433.97L76.25 432.20L74.38 431.61L73.12 431.61" fill="none" stroke="#c8101a" stroke-width="2.00" stroke-linecap="butt" stroke-linejoin="miter" stroke-miterlimit="1.6" shape-rendering="crispEdges"/>
<path d="M41.25 487.69L52.50 487.69M58.75 482.97L60.00 482.38L61.88 480.61L61.88 493.00M73.12 480.61L71.25 481.20L70.00 482.97L69.38 485.92L69.38 487.69L70.00 490.64L71.25 492.41L73.12 493.00L74.38 493.00L76.25 492.41L77.50 490.64L78.12 487.69L78.12 485.92L77.50 482.97L76.25 481.20L74.38 480.61L73.12 480.61" fill="none" stroke="#c8101a" stroke-width="2.00" stroke-linecap="butt" stroke-linejoin="miter" stroke-miterlimit="1.6" shape-rendering="crispEdges"/>
<path d="M41.25 527.44L52.50 527.44M57.50 523.31L57.50 522.72L58.12 521.54L58.75 520.95L60.00 520.36L62.50 520.36L63.75 520.95L64.38 521.54L65.00 522.72L65.00 523.90L64.38 525.08L63.12 526.85L56.88 532.75L65.62 532.75M73.12 520.36L71.25 520.95L70.00 522.72L69.38 525.67L69.38 527.44L70.00 530.39L71.25 532.16L73.12 532.75L74.38 532.75L76.25 532.16L77.50 530.39L78.12 527.44L78.12 525.67L77.50 522.72L76.25 520.95L74.38 520.36L73.12 520.36" fill="none" stroke="#c8101a" stroke-width="2.00" stroke-linecap="butt" stroke-linejoin="miter" stroke-miterlimit="1.6" shape-rendering="crispEdges"/>
<path d="M411.84 575.27L411.84 588.50M411.84 575.27L417.51 575.27L419.40 575.90L420.03 576.53L420.66 577.79L420.66 579.68L420.03 580.94L419.40 581.57L417.51 582.20L411.84 582.20M424.44 575.27L425.07 575.90L425.70 575.27L425.07 574.64L424.44 575.27M425.07 579.68L425.07 588.50M429.48 579.68L436.41 588.50M436.41 579.68L429.48 588.50M440.19 583.46L447.75 583.46L447.75 582.20L447.12 580.94L446.49 580.31L445.23 579.68L443.34 579.68L442.08 580.31L440.82 581.57L440.19 583.46L440.19 584.72L440.82 586.61L442.08 587.87L443.34 588.50L445.23 588.50L446.49 587.87L447.75 586.61M452.16 575.27L452.16 588.50" fill="none" stroke="#c8101a" stroke-width="2.00" stroke-linecap="butt" stroke-linejoin="miter" stroke-miterlimit="1.6" shape-rendering="crispEdges"/>
<path d="M10.86 516.71L9.60 517.97L8.97 519.87L8.97 522.38L9.60 524.27L10.86 525.53L12.12 525.53L13.38 524.90L14.01 524.27L14.64 523.01L15.90 519.23L16.53 517.97L17.16 517.34L18.42 516.71L20.31 516.71L21.57 517.97L22.20 519.87L22.20 522.38L21.57 524.27L20.31 525.53M13.38 512.30L26.61 512.30M15.27 512.30L14.01 511.04L13.38 509.78L13.38 507.89L14.01 506.63L15.27 505.37L17.16 504.74L18.42 504.74L20.31 505.37L21.57 506.63L22.20 507.89L22.20 509.78L21.57 511.04L20.31 512.30M13.38 493.40L22.20 493.40M15.27 493.40L14.01 494.66L13.38 495.92L13.38 497.81L14.01 499.07L15.27 500.33L17.16 500.96L18.42 500.96L20.31 500.33L21.57 499.07L22.20 497.81L22.20 495.92L21.57 494.66L20.31 493.40M15.27 481.43L14.01 482.69L13.38 483.95L13.38 485.84L14.01 487.10L15.27 488.36L17.16 488.99L18.42 488.99L20.31 488.36L21.57 487.10L22.20 485.84L22.20 483.95L21.57 482.69L20.31 481.43M17.16 477.65L17.16 470.09L15.90 470.09L14.64 470.72L14.01 471.35L13.38 472.61L13.38 474.50L14.01 475.76L15.27 477.02L17.16 477.65L18.42 477.65L20.31 477.02L21.57 475.76L22.20 474.50L22.20 472.61L21.57 471.35L20.31 470.09M10.86 447.41L9.60 448.67L8.97 450.56L8.97 453.08L9.60 454.97L10.86 456.23L12.12 456.23L13.38 455.60L14.01 454.97L14.64 453.71L15.90 449.93L16.53 448.67L17.16 448.04L18.42 447.41L20.31 447.41L21.57 448.67L22.20 450.56L22.20 453.08L21.57 454.97L20.31 456.23M8.97 443.00L22.20 443.00M15.90 443.00L14.01 441.11L13.38 439.85L13.38 437.96L14.01 436.70L15.90 436.07L22.20 436.07M8.97 431.66L9.60 431.03L8.97 430.40L8.34 431.03L8.97 431.66M13.38 431.03L22.20 431.03M8.97 422.21L8.97 423.47L9.60 424.73L11.49 425.36L22.20 425.36M13.38 427.25L13.38 422.84M8.97 417.80L19.68 417.80L21.57 417.17L22.20 415.91L22.20 414.65M13.38 419.69L13.38 415.28M6.45 400.79L26.61 400.79M6.45 400.16L26.61 400.16M6.45 400.79L6.45 396.38M26.61 400.79L26.61 396.38M13.38 391.97L26.61 391.97M15.27 391.97L14.01 390.71L13.38 389.45L13.38 387.56L14.01 386.30L15.27 385.04L17.16 384.41L18.42 384.41L20.31 385.04L21.57 386.30L22.20 387.56L22.20 389.45L21.57 390.71L20.31 391.97M8.97 380.63L9.60 380.00L8.97 379.37L8.34 380.00L8.97 380.63M13.38 380.00L22.20 380.00M13.38 375.59L22.20 368.66M13.38 368.66L22.20 375.59M17.16 364.88L17.16 357.32L15.90 357.32L14.64 357.95L14.01 358.58L13.38 359.84L13.38 361.73L14.01 362.99L15.27 364.25L17.16 364.88L18.42 364.88L20.31 364.25L21.57 362.99L22.20 361.73L22.20 359.84L21.57 358.58L20.31 357.32M8.97 352.91L22.20 352.91M6.45 344.72L26.61 344.72M6.45 344.09L26.61 344.09M6.45 348.50L6.45 344.09M26.61 348.50L26.61 344.09" fill="none" stroke="#c8101a" stroke-width="2.00" stroke-linecap="butt" stroke-linejoin="miter" stroke-miterlimit="1.6" shape-rendering="crispEdges"/>
<g stroke="#4a4a4a" stroke-width="1.3" stroke-dasharray="1.6,0.7" fill="none"><line x1="788.5" y1="599" x2="799" y2="588.5"/><line x1="792.5" y1="599" x2="799" y2="592.5"/><line x1="796.5" y1="599" x2="799" y2="596.5"/></g>
</svg></body></html>
